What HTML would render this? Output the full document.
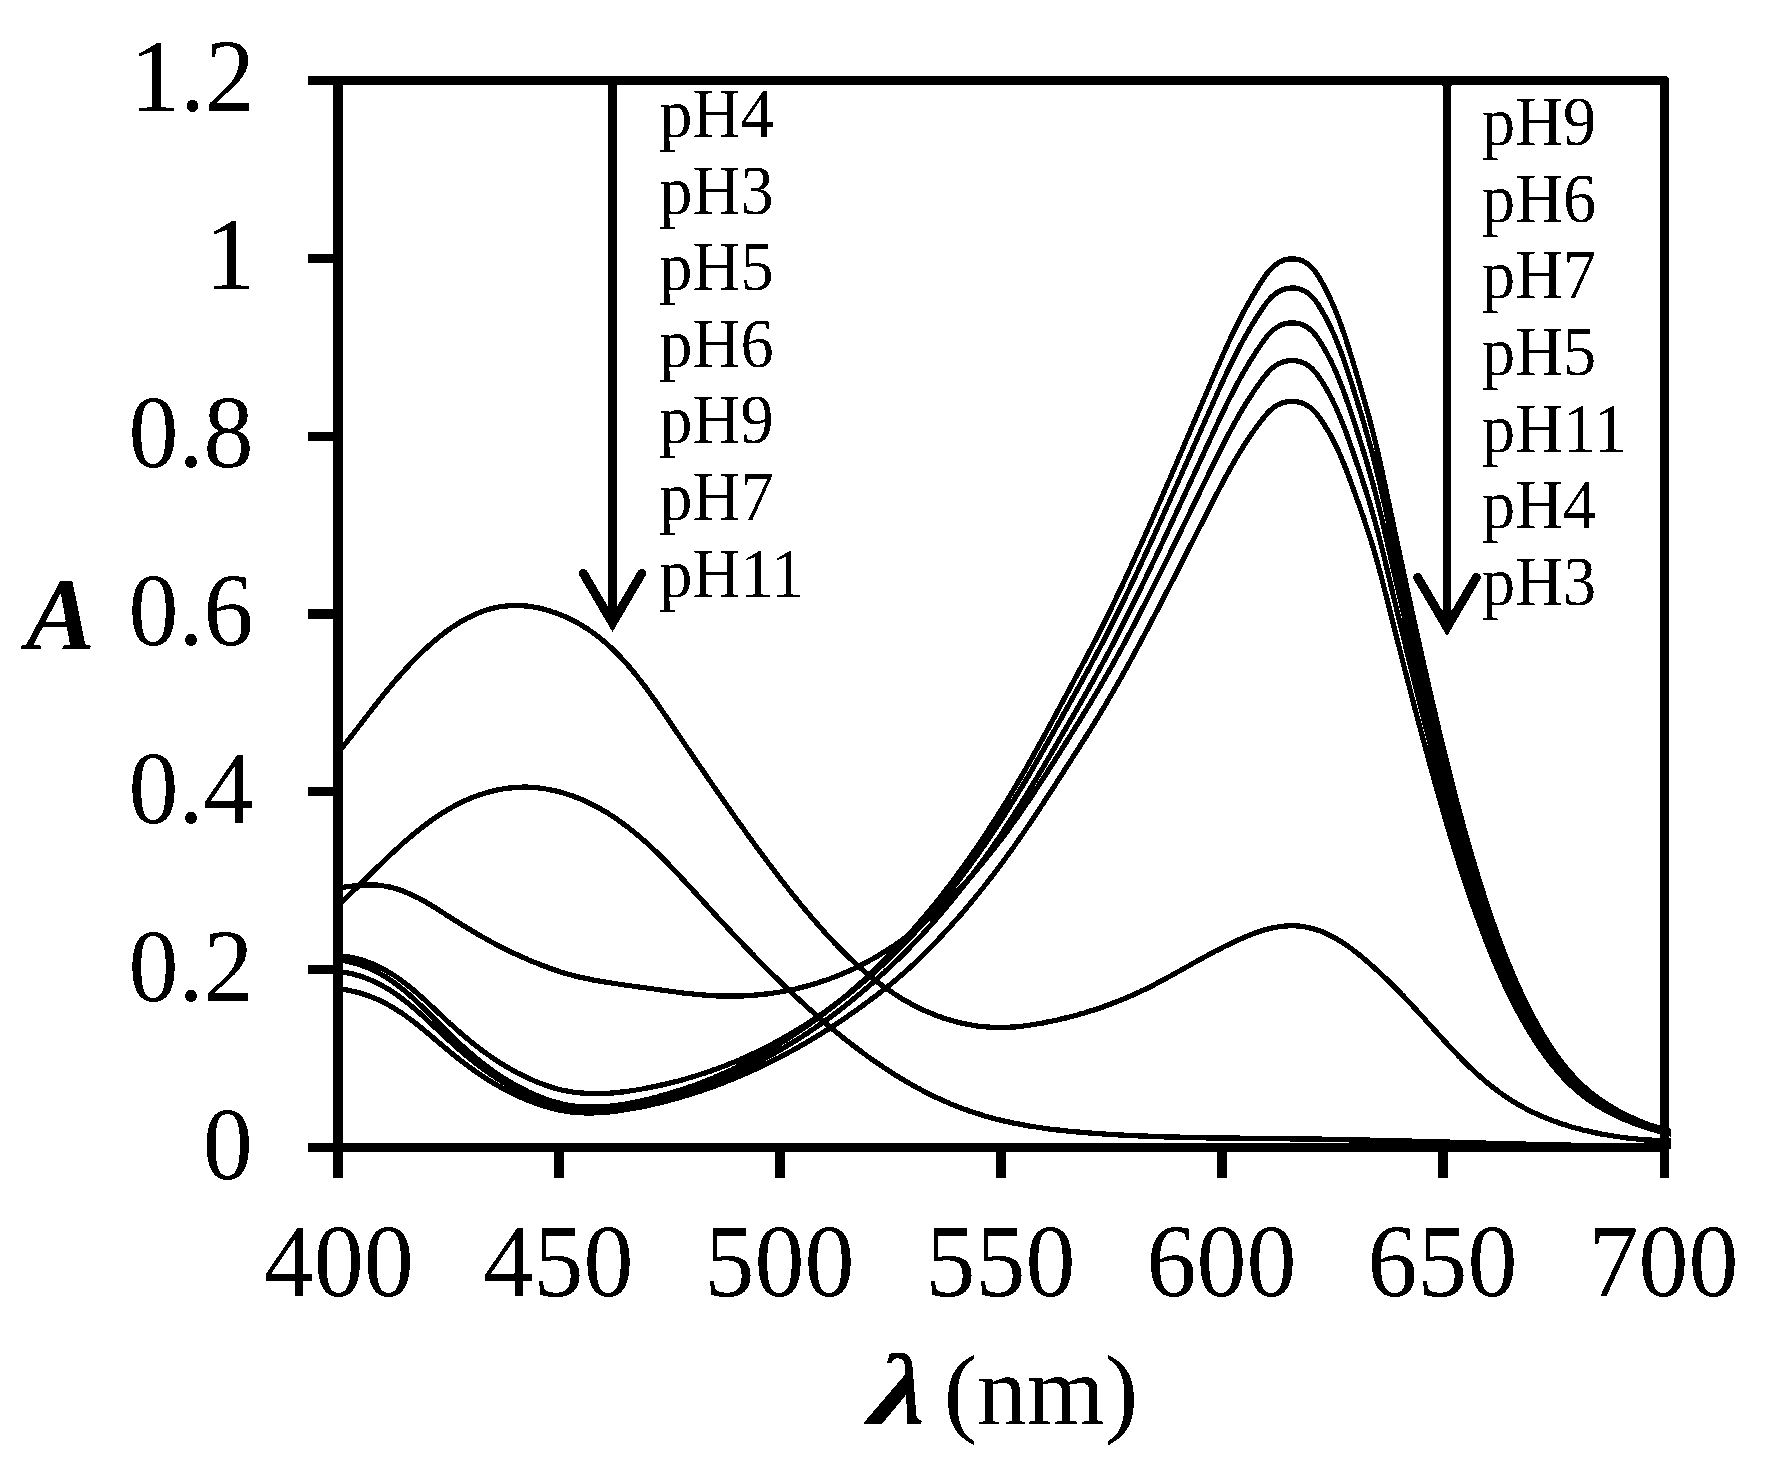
<!DOCTYPE html>
<html lang="en"><head><meta charset="utf-8"><title>Absorption spectra</title>
<style>html,body{margin:0;padding:0;background:#fff}body{width:1773px;height:1469px;overflow:hidden;position:relative}</style>
</head><body>
<svg width="1773" height="1469" viewBox="0 0 1773 1469" style="position:absolute;left:0;top:0">
<rect width="1773" height="1469" fill="#fff"/>
<defs><clipPath id="cp"><rect x="338" y="60" width="1333" height="1100"/></clipPath><filter id="bw" filterUnits="userSpaceOnUse" x="0" y="0" width="1773" height="1469" color-interpolation-filters="sRGB"><feComponentTransfer><feFuncA type="discrete" tableValues="0 1"/></feComponentTransfer></filter></defs>
<g filter="url(#bw)">
<g fill="none" stroke="#000" stroke-width="5.2" stroke-linejoin="round" clip-path="url(#cp)">
<path d="M338,959.7 L340,959.9 L342,960.3 L344,960.6 L346,961.0 L348,961.4 L350,961.9 L352,962.4 L354,962.9 L356,963.5 L358,964.1 L360,964.8 L362,965.5 L364,966.2 L366,967.0 L368,967.8 L370,968.7 L372,969.6 L374,970.5 L376,971.5 L378,972.6 L380,973.7 L382,974.8 L384,976.0 L386,977.3 L388,978.5 L390,979.9 L392,981.2 L394,982.6 L396,984.1 L398,985.6 L400,987.1 L402,988.7 L404,990.3 L406,992.0 L408,993.7 L410,995.5 L412,997.2 L414,999.0 L416,1000.9 L418,1002.8 L420,1004.7 L422,1006.6 L424,1008.5 L426,1010.5 L428,1012.5 L430,1014.4 L432,1016.4 L434,1018.4 L436,1020.5 L438,1022.5 L440,1024.5 L442,1026.5 L444,1028.5 L446,1030.5 L448,1032.4 L450,1034.4 L452,1036.3 L454,1038.3 L456,1040.1 L458,1042.0 L460,1043.9 L462,1045.7 L464,1047.5 L466,1049.3 L468,1051.1 L470,1052.8 L472,1054.5 L474,1056.2 L476,1057.9 L478,1059.5 L480,1061.1 L482,1062.7 L484,1064.3 L486,1065.8 L488,1067.3 L490,1068.8 L492,1070.2 L494,1071.7 L496,1073.1 L498,1074.4 L500,1075.8 L502,1077.1 L504,1078.4 L506,1079.6 L508,1080.9 L510,1082.1 L512,1083.3 L514,1084.4 L516,1085.5 L518,1086.6 L520,1087.7 L522,1088.7 L524,1089.7 L526,1090.7 L528,1091.7 L530,1092.6 L532,1093.5 L534,1094.4 L536,1095.2 L538,1096.1 L540,1096.9 L542,1097.6 L544,1098.4 L546,1099.1 L548,1099.8 L550,1100.4 L552,1101.1 L554,1101.7 L556,1102.3 L558,1102.8 L560,1103.3 L562,1103.8 L564,1104.2 L566,1104.6 L568,1105.0 L570,1105.3 L572,1105.6 L574,1105.9 L576,1106.2 L578,1106.4 L580,1106.5 L582,1106.7 L584,1106.8 L586,1106.9 L588,1107.0 L590,1107.0 L592,1107.0 L594,1107.0 L596,1107.0 L598,1106.9 L600,1106.8 L602,1106.7 L604,1106.6 L606,1106.5 L608,1106.3 L610,1106.1 L612,1105.9 L614,1105.7 L616,1105.4 L618,1105.1 L620,1104.8 L622,1104.5 L624,1104.2 L626,1103.9 L628,1103.5 L630,1103.2 L632,1102.8 L634,1102.4 L636,1102.0 L638,1101.6 L640,1101.1 L642,1100.7 L644,1100.2 L646,1099.7 L648,1099.2 L650,1098.8 L652,1098.3 L654,1097.7 L656,1097.2 L658,1096.7 L660,1096.1 L662,1095.6 L664,1095.0 L666,1094.5 L668,1093.9 L670,1093.3 L672,1092.7 L674,1092.1 L676,1091.5 L678,1090.8 L680,1090.2 L682,1089.5 L684,1088.9 L686,1088.2 L688,1087.5 L690,1086.8 L692,1086.1 L694,1085.4 L696,1084.7 L698,1083.9 L700,1083.2 L702,1082.4 L704,1081.6 L706,1080.8 L708,1080.0 L710,1079.2 L712,1078.4 L714,1077.6 L716,1076.7 L718,1075.9 L720,1075.0 L722,1074.1 L724,1073.2 L726,1072.3 L728,1071.4 L730,1070.5 L732,1069.6 L734,1068.6 L736,1067.7 L738,1066.7 L740,1065.7 L742,1064.7 L744,1063.7 L746,1062.7 L748,1061.7 L750,1060.6 L752,1059.6 L754,1058.5 L756,1057.4 L758,1056.3 L760,1055.2 L762,1054.1 L764,1053.0 L766,1051.9 L768,1050.7 L770,1049.5 L772,1048.4 L774,1047.2 L776,1046.0 L778,1044.8 L780,1043.6 L782,1042.3 L784,1041.1 L786,1039.8 L788,1038.5 L790,1037.2 L792,1035.9 L794,1034.6 L796,1033.3 L798,1032.0 L800,1030.6 L802,1029.2 L804,1027.9 L806,1026.5 L808,1025.1 L810,1023.6 L812,1022.2 L814,1020.8 L816,1019.3 L818,1017.8 L820,1016.3 L822,1014.8 L824,1013.3 L826,1011.8 L828,1010.2 L830,1008.7 L832,1007.1 L834,1005.5 L836,1003.9 L838,1002.3 L840,1000.7 L842,999.0 L844,997.4 L846,995.7 L848,994.0 L850,992.3 L852,990.5 L854,988.8 L856,987.1 L858,985.3 L860,983.5 L862,981.7 L864,979.9 L866,978.0 L868,976.2 L870,974.3 L872,972.4 L874,970.5 L876,968.6 L878,966.7 L880,964.7 L882,962.7 L884,960.7 L886,958.7 L888,956.7 L890,954.7 L892,952.6 L894,950.5 L896,948.4 L898,946.3 L900,944.2 L902,942.0 L904,939.9 L906,937.7 L908,935.5 L910,933.2 L912,931.0 L914,928.7 L916,926.4 L918,924.1 L920,921.8 L922,919.5 L924,917.1 L926,914.7 L928,912.3 L930,909.9 L932,907.5 L934,905.0 L936,902.5 L938,900.0 L940,897.5 L942,895.0 L944,892.4 L946,889.8 L948,887.2 L950,884.6 L952,881.9 L954,879.3 L956,876.6 L958,873.9 L960,871.1 L962,868.4 L964,865.6 L966,862.8 L968,860.0 L970,857.1 L972,854.3 L974,851.4 L976,848.5 L978,845.5 L980,842.6 L982,839.6 L984,836.6 L986,833.6 L988,830.5 L990,827.5 L992,824.4 L994,821.3 L996,818.1 L998,815.0 L1000,811.8 L1002,808.6 L1004,805.3 L1006,802.1 L1008,798.8 L1010,795.5 L1012,792.2 L1014,788.8 L1016,785.5 L1018,782.1 L1020,778.6 L1022,775.2 L1024,771.7 L1026,768.3 L1028,764.7 L1030,761.2 L1032,757.7 L1034,754.1 L1036,750.5 L1038,746.9 L1040,743.3 L1042,739.7 L1044,736.0 L1046,732.4 L1048,728.7 L1050,725.0 L1052,721.4 L1054,717.7 L1056,714.0 L1058,710.3 L1060,706.6 L1062,702.8 L1064,699.1 L1066,695.4 L1068,691.7 L1070,688.0 L1072,684.3 L1074,680.5 L1076,676.8 L1078,673.0 L1080,669.3 L1082,665.5 L1084,661.7 L1086,658.0 L1088,654.1 L1090,650.3 L1092,646.5 L1094,642.6 L1096,638.7 L1098,634.8 L1100,630.9 L1102,627.0 L1104,623.0 L1106,619.0 L1108,614.9 L1110,610.8 L1112,606.7 L1114,602.6 L1116,598.4 L1118,594.2 L1120,590.0 L1122,585.8 L1124,581.5 L1126,577.2 L1128,572.9 L1130,568.5 L1132,564.2 L1134,559.8 L1136,555.4 L1138,551.0 L1140,546.5 L1142,542.1 L1144,537.6 L1146,533.1 L1148,528.6 L1150,524.1 L1152,519.5 L1154,515.0 L1156,510.4 L1158,505.8 L1160,501.3 L1162,496.7 L1164,492.0 L1166,487.4 L1168,482.8 L1170,478.2 L1172,473.5 L1174,468.9 L1176,464.2 L1178,459.5 L1180,454.9 L1182,450.2 L1184,445.5 L1186,440.8 L1188,436.1 L1190,431.4 L1192,426.8 L1194,422.1 L1196,417.4 L1198,412.7 L1200,408.0 L1202,403.3 L1204,398.7 L1206,394.0 L1208,389.3 L1210,384.7 L1212,380.0 L1214,375.4 L1216,370.7 L1218,366.1 L1220,361.6 L1222,357.0 L1224,352.5 L1226,348.1 L1228,343.7 L1230,339.4 L1232,335.2 L1234,331.0 L1236,326.9 L1238,322.9 L1240,318.9 L1242,315.1 L1244,311.3 L1246,307.6 L1248,304.0 L1250,300.4 L1252,296.9 L1254,293.6 L1256,290.2 L1258,287.0 L1260,283.8 L1262,280.7 L1264,277.7 L1266,274.8 L1268,272.2 L1270,269.8 L1272,267.7 L1274,265.8 L1276,264.3 L1278,262.9 L1280,261.8 L1282,260.9 L1284,260.1 L1286,259.5 L1288,259.1 L1290,258.8 L1292,258.7 L1294,258.8 L1296,259.0 L1298,259.4 L1300,260.0 L1302,260.7 L1304,261.7 L1306,262.8 L1308,264.2 L1310,265.8 L1312,267.8 L1314,270.1 L1316,272.7 L1318,275.7 L1320,279.0 L1322,282.5 L1324,286.1 L1326,289.9 L1328,293.9 L1330,298.1 L1332,302.5 L1334,307.1 L1336,311.9 L1338,317.0 L1340,322.3 L1342,327.9 L1344,333.7 L1346,339.7 L1348,345.9 L1350,352.3 L1352,358.8 L1354,365.4 L1356,372.0 L1358,378.6 L1360,385.4 L1362,392.2 L1364,399.2 L1366,406.3 L1368,413.5 L1370,421.0 L1372,428.6 L1374,436.5 L1376,444.7 L1378,453.2 L1380,462.0 L1382,471.0 L1384,480.3 L1386,489.7 L1388,499.2 L1390,508.7 L1392,518.1 L1394,527.6 L1396,537.0 L1398,546.4 L1400,555.8 L1402,565.1 L1404,574.4 L1406,583.7 L1408,592.9 L1410,602.1 L1412,611.3 L1414,620.4 L1416,629.5 L1418,638.5 L1420,647.5 L1422,656.4 L1424,665.3 L1426,674.1 L1428,682.9 L1430,691.6 L1432,700.3 L1434,708.9 L1436,717.5 L1438,726.0 L1440,734.4 L1442,742.7 L1444,750.9 L1446,759.1 L1448,767.2 L1450,775.2 L1452,783.0 L1454,790.8 L1456,798.5 L1458,806.1 L1460,813.5 L1462,820.9 L1464,828.2 L1466,835.3 L1468,842.4 L1470,849.3 L1472,856.2 L1474,863.0 L1476,869.6 L1478,876.2 L1480,882.6 L1482,889.0 L1484,895.2 L1486,901.4 L1488,907.5 L1490,913.4 L1492,919.3 L1494,925.1 L1496,930.7 L1498,936.3 L1500,941.7 L1502,947.0 L1504,952.3 L1506,957.4 L1508,962.4 L1510,967.3 L1512,972.0 L1514,976.7 L1516,981.3 L1518,985.8 L1520,990.2 L1522,994.5 L1524,998.7 L1526,1002.8 L1528,1006.8 L1530,1010.7 L1532,1014.6 L1534,1018.4 L1536,1022.1 L1538,1025.7 L1540,1029.2 L1542,1032.7 L1544,1036.1 L1546,1039.4 L1548,1042.6 L1550,1045.7 L1552,1048.7 L1554,1051.7 L1556,1054.5 L1558,1057.3 L1560,1060.0 L1562,1062.7 L1564,1065.2 L1566,1067.7 L1568,1070.1 L1570,1072.4 L1572,1074.6 L1574,1076.8 L1576,1078.9 L1578,1081.0 L1580,1082.9 L1582,1084.8 L1584,1086.7 L1586,1088.5 L1588,1090.2 L1590,1091.9 L1592,1093.5 L1594,1095.0 L1596,1096.6 L1598,1098.0 L1600,1099.5 L1602,1100.9 L1604,1102.2 L1606,1103.5 L1608,1104.8 L1610,1106.0 L1612,1107.3 L1614,1108.4 L1616,1109.6 L1618,1110.7 L1620,1111.8 L1622,1112.8 L1624,1113.9 L1626,1114.9 L1628,1115.9 L1630,1116.8 L1632,1117.7 L1634,1118.6 L1636,1119.5 L1638,1120.4 L1640,1121.2 L1642,1122.0 L1644,1122.8 L1646,1123.6 L1648,1124.3 L1650,1125.1 L1652,1125.8 L1654,1126.5 L1656,1127.1 L1658,1127.8 L1660,1128.4 L1662,1129.0 L1664,1129.6 L1666,1130.2 L1668,1130.7 L1670,1131.2 L1672,1131.5"/>
<path d="M338,955.5 L340,955.7 L342,955.9 L344,956.2 L346,956.5 L348,956.8 L350,957.2 L352,957.6 L354,958.0 L356,958.5 L358,959.0 L360,959.5 L362,960.1 L364,960.7 L366,961.4 L368,962.1 L370,962.9 L372,963.7 L374,964.5 L376,965.4 L378,966.3 L380,967.3 L382,968.3 L384,969.4 L386,970.5 L388,971.7 L390,972.9 L392,974.1 L394,975.4 L396,976.7 L398,978.1 L400,979.5 L402,981.0 L404,982.5 L406,984.0 L408,985.6 L410,987.2 L412,988.8 L414,990.5 L416,992.2 L418,993.9 L420,995.7 L422,997.5 L424,999.3 L426,1001.1 L428,1003.0 L430,1004.8 L432,1006.7 L434,1008.6 L436,1010.5 L438,1012.4 L440,1014.3 L442,1016.1 L444,1018.0 L446,1019.9 L448,1021.7 L450,1023.6 L452,1025.4 L454,1027.2 L456,1029.0 L458,1030.8 L460,1032.5 L462,1034.2 L464,1036.0 L466,1037.6 L468,1039.3 L470,1040.9 L472,1042.6 L474,1044.2 L476,1045.7 L478,1047.3 L480,1048.8 L482,1050.3 L484,1051.8 L486,1053.3 L488,1054.7 L490,1056.1 L492,1057.5 L494,1058.8 L496,1060.2 L498,1061.5 L500,1062.8 L502,1064.0 L504,1065.3 L506,1066.5 L508,1067.6 L510,1068.8 L512,1069.9 L514,1071.0 L516,1072.1 L518,1073.2 L520,1074.2 L522,1075.2 L524,1076.2 L526,1077.1 L528,1078.1 L530,1079.0 L532,1079.8 L534,1080.7 L536,1081.5 L538,1082.3 L540,1083.1 L542,1083.9 L544,1084.6 L546,1085.3 L548,1086.0 L550,1086.6 L552,1087.3 L554,1087.9 L556,1088.4 L558,1089.0 L560,1089.5 L562,1090.0 L564,1090.4 L566,1090.8 L568,1091.2 L570,1091.6 L572,1091.9 L574,1092.2 L576,1092.5 L578,1092.7 L580,1092.9 L582,1093.1 L584,1093.2 L586,1093.4 L588,1093.5 L590,1093.6 L592,1093.6 L594,1093.7 L596,1093.7 L598,1093.7 L600,1093.6 L602,1093.6 L604,1093.5 L606,1093.4 L608,1093.3 L610,1093.2 L612,1093.0 L614,1092.8 L616,1092.7 L618,1092.5 L620,1092.2 L622,1092.0 L624,1091.8 L626,1091.5 L628,1091.2 L630,1090.9 L632,1090.6 L634,1090.3 L636,1090.0 L638,1089.7 L640,1089.3 L642,1089.0 L644,1088.6 L646,1088.2 L648,1087.8 L650,1087.4 L652,1087.0 L654,1086.6 L656,1086.2 L658,1085.7 L660,1085.3 L662,1084.9 L664,1084.4 L666,1083.9 L668,1083.5 L670,1083.0 L672,1082.5 L674,1082.0 L676,1081.5 L678,1081.0 L680,1080.4 L682,1079.9 L684,1079.3 L686,1078.8 L688,1078.2 L690,1077.6 L692,1077.0 L694,1076.4 L696,1075.8 L698,1075.2 L700,1074.6 L702,1073.9 L704,1073.3 L706,1072.6 L708,1071.9 L710,1071.2 L712,1070.5 L714,1069.8 L716,1069.1 L718,1068.4 L720,1067.6 L722,1066.9 L724,1066.1 L726,1065.3 L728,1064.5 L730,1063.7 L732,1062.9 L734,1062.1 L736,1061.3 L738,1060.4 L740,1059.6 L742,1058.7 L744,1057.8 L746,1056.9 L748,1056.0 L750,1055.1 L752,1054.2 L754,1053.2 L756,1052.3 L758,1051.3 L760,1050.3 L762,1049.3 L764,1048.3 L766,1047.3 L768,1046.3 L770,1045.3 L772,1044.2 L774,1043.1 L776,1042.1 L778,1041.0 L780,1039.9 L782,1038.8 L784,1037.6 L786,1036.5 L788,1035.4 L790,1034.2 L792,1033.0 L794,1031.8 L796,1030.6 L798,1029.4 L800,1028.2 L802,1026.9 L804,1025.7 L806,1024.4 L808,1023.1 L810,1021.8 L812,1020.5 L814,1019.2 L816,1017.9 L818,1016.5 L820,1015.2 L822,1013.8 L824,1012.4 L826,1011.0 L828,1009.6 L830,1008.1 L832,1006.7 L834,1005.2 L836,1003.7 L838,1002.2 L840,1000.7 L842,999.2 L844,997.7 L846,996.1 L848,994.5 L850,993.0 L852,991.4 L854,989.7 L856,988.1 L858,986.5 L860,984.8 L862,983.1 L864,981.4 L866,979.7 L868,978.0 L870,976.2 L872,974.5 L874,972.7 L876,970.9 L878,969.1 L880,967.2 L882,965.4 L884,963.5 L886,961.6 L888,959.7 L890,957.8 L892,955.9 L894,953.9 L896,952.0 L898,950.0 L900,948.0 L902,945.9 L904,943.9 L906,941.8 L908,939.7 L910,937.6 L912,935.5 L914,933.4 L916,931.2 L918,929.0 L920,926.8 L922,924.6 L924,922.4 L926,920.1 L928,917.8 L930,915.5 L932,913.2 L934,910.9 L936,908.5 L938,906.2 L940,903.8 L942,901.3 L944,898.9 L946,896.4 L948,894.0 L950,891.5 L952,888.9 L954,886.4 L956,883.8 L958,881.2 L960,878.6 L962,876.0 L964,873.3 L966,870.7 L968,868.0 L970,865.2 L972,862.5 L974,859.7 L976,857.0 L978,854.2 L980,851.3 L982,848.5 L984,845.6 L986,842.7 L988,839.8 L990,836.8 L992,833.9 L994,830.9 L996,827.9 L998,824.8 L1000,821.8 L1002,818.7 L1004,815.6 L1006,812.5 L1008,809.3 L1010,806.1 L1012,802.9 L1014,799.7 L1016,796.5 L1018,793.2 L1020,789.9 L1022,786.6 L1024,783.3 L1026,779.9 L1028,776.6 L1030,773.2 L1032,769.7 L1034,766.3 L1036,762.9 L1038,759.4 L1040,755.9 L1042,752.4 L1044,748.9 L1046,745.4 L1048,741.9 L1050,738.3 L1052,734.8 L1054,731.2 L1056,727.6 L1058,724.1 L1060,720.5 L1062,716.9 L1064,713.3 L1066,709.8 L1068,706.2 L1070,702.6 L1072,699.0 L1074,695.4 L1076,691.8 L1078,688.2 L1080,684.6 L1082,680.9 L1084,677.3 L1086,673.6 L1088,669.9 L1090,666.3 L1092,662.5 L1094,658.8 L1096,655.1 L1098,651.3 L1100,647.5 L1102,643.7 L1104,639.9 L1106,636.0 L1108,632.1 L1110,628.1 L1112,624.2 L1114,620.2 L1116,616.2 L1118,612.1 L1120,608.0 L1122,603.9 L1124,599.8 L1126,595.7 L1128,591.5 L1130,587.3 L1132,583.1 L1134,578.8 L1136,574.6 L1138,570.3 L1140,566.0 L1142,561.7 L1144,557.4 L1146,553.1 L1148,548.7 L1150,544.3 L1152,540.0 L1154,535.6 L1156,531.2 L1158,526.7 L1160,522.3 L1162,517.9 L1164,513.4 L1166,509.0 L1168,504.5 L1170,500.0 L1172,495.5 L1174,491.0 L1176,486.5 L1178,482.0 L1180,477.5 L1182,473.0 L1184,468.4 L1186,463.9 L1188,459.4 L1190,454.9 L1192,450.3 L1194,445.8 L1196,441.3 L1198,436.7 L1200,432.2 L1202,427.7 L1204,423.2 L1206,418.7 L1208,414.2 L1210,409.7 L1212,405.2 L1214,400.7 L1216,396.2 L1218,391.7 L1220,387.3 L1222,382.9 L1224,378.6 L1226,374.3 L1228,370.1 L1230,365.9 L1232,361.8 L1234,357.8 L1236,353.8 L1238,350.0 L1240,346.1 L1242,342.4 L1244,338.7 L1246,335.2 L1248,331.7 L1250,328.2 L1252,324.9 L1254,321.6 L1256,318.4 L1258,315.3 L1260,312.2 L1262,309.2 L1264,306.3 L1266,303.5 L1268,300.9 L1270,298.6 L1272,296.6 L1274,294.8 L1276,293.3 L1278,292.0 L1280,290.9 L1282,290.0 L1284,289.3 L1286,288.7 L1288,288.3 L1290,288.1 L1292,288.0 L1294,288.0 L1296,288.2 L1298,288.6 L1300,289.2 L1302,289.9 L1304,290.8 L1306,291.9 L1308,293.2 L1310,294.8 L1312,296.7 L1314,298.9 L1316,301.5 L1318,304.4 L1320,307.6 L1322,310.9 L1324,314.4 L1326,318.1 L1328,322.0 L1330,326.0 L1332,330.3 L1334,334.7 L1336,339.4 L1338,344.3 L1340,349.4 L1342,354.8 L1344,360.4 L1346,366.3 L1348,372.3 L1350,378.5 L1352,384.7 L1354,391.1 L1356,397.5 L1358,403.9 L1360,410.5 L1362,417.1 L1364,423.8 L1366,430.7 L1368,437.7 L1370,444.8 L1372,452.2 L1374,459.9 L1376,467.8 L1378,476.0 L1380,484.5 L1382,493.3 L1384,502.2 L1386,511.3 L1388,520.5 L1390,529.6 L1392,538.8 L1394,547.9 L1396,557.0 L1398,566.1 L1400,575.2 L1402,584.2 L1404,593.2 L1406,602.2 L1408,611.1 L1410,620.0 L1412,628.9 L1414,637.7 L1416,646.5 L1418,655.2 L1420,663.9 L1422,672.5 L1424,681.1 L1426,689.6 L1428,698.1 L1430,706.6 L1432,715.0 L1434,723.3 L1436,731.6 L1438,739.8 L1440,747.9 L1442,755.9 L1444,763.9 L1446,771.8 L1448,779.6 L1450,787.3 L1452,794.9 L1454,802.5 L1456,809.9 L1458,817.2 L1460,824.4 L1462,831.6 L1464,838.6 L1466,845.5 L1468,852.3 L1470,859.1 L1472,865.7 L1474,872.2 L1476,878.7 L1478,885.0 L1480,891.2 L1482,897.4 L1484,903.4 L1486,909.4 L1488,915.3 L1490,921.1 L1492,926.7 L1494,932.3 L1496,937.8 L1498,943.1 L1500,948.4 L1502,953.6 L1504,958.6 L1506,963.5 L1508,968.4 L1510,973.1 L1512,977.7 L1514,982.3 L1516,986.7 L1518,991.0 L1520,995.3 L1522,999.4 L1524,1003.5 L1526,1007.5 L1528,1011.3 L1530,1015.2 L1532,1018.9 L1534,1022.5 L1536,1026.1 L1538,1029.6 L1540,1033.0 L1542,1036.4 L1544,1039.7 L1546,1042.8 L1548,1045.9 L1550,1049.0 L1552,1051.9 L1554,1054.8 L1556,1057.5 L1558,1060.2 L1560,1062.8 L1562,1065.4 L1564,1067.8 L1566,1070.2 L1568,1072.5 L1570,1074.8 L1572,1077.0 L1574,1079.1 L1576,1081.1 L1578,1083.1 L1580,1085.0 L1582,1086.8 L1584,1088.6 L1586,1090.3 L1588,1092.0 L1590,1093.6 L1592,1095.2 L1594,1096.7 L1596,1098.2 L1598,1099.6 L1600,1101.0 L1602,1102.3 L1604,1103.6 L1606,1104.9 L1608,1106.2 L1610,1107.4 L1612,1108.5 L1614,1109.7 L1616,1110.8 L1618,1111.9 L1620,1112.9 L1622,1113.9 L1624,1114.9 L1626,1115.9 L1628,1116.9 L1630,1117.8 L1632,1118.7 L1634,1119.5 L1636,1120.4 L1638,1121.2 L1640,1122.0 L1642,1122.8 L1644,1123.6 L1646,1124.3 L1648,1125.1 L1650,1125.8 L1652,1126.4 L1654,1127.1 L1656,1127.8 L1658,1128.4 L1660,1129.0 L1662,1129.6 L1664,1130.2 L1666,1130.7 L1668,1131.2 L1670,1131.7 L1672,1131.9"/>
<path d="M338,971.3 L340,971.6 L342,971.9 L344,972.2 L346,972.6 L348,972.9 L350,973.4 L352,973.8 L354,974.3 L356,974.9 L358,975.5 L360,976.1 L362,976.7 L364,977.4 L366,978.2 L368,978.9 L370,979.8 L372,980.6 L374,981.5 L376,982.5 L378,983.4 L380,984.5 L382,985.5 L384,986.7 L386,987.8 L388,989.0 L390,990.2 L392,991.5 L394,992.9 L396,994.2 L398,995.6 L400,997.1 L402,998.6 L404,1000.1 L406,1001.7 L408,1003.3 L410,1004.9 L412,1006.6 L414,1008.2 L416,1010.0 L418,1011.7 L420,1013.5 L422,1015.3 L424,1017.1 L426,1019.0 L428,1020.8 L430,1022.7 L432,1024.6 L434,1026.5 L436,1028.3 L438,1030.2 L440,1032.1 L442,1034.0 L444,1035.9 L446,1037.7 L448,1039.6 L450,1041.4 L452,1043.2 L454,1045.0 L456,1046.8 L458,1048.6 L460,1050.3 L462,1052.0 L464,1053.7 L466,1055.4 L468,1057.0 L470,1058.7 L472,1060.3 L474,1061.9 L476,1063.4 L478,1065.0 L480,1066.5 L482,1068.0 L484,1069.4 L486,1070.9 L488,1072.3 L490,1073.7 L492,1075.0 L494,1076.4 L496,1077.7 L498,1079.0 L500,1080.2 L502,1081.5 L504,1082.7 L506,1083.8 L508,1085.0 L510,1086.1 L512,1087.2 L514,1088.3 L516,1089.4 L518,1090.4 L520,1091.4 L522,1092.4 L524,1093.3 L526,1094.3 L528,1095.2 L530,1096.0 L532,1096.9 L534,1097.7 L536,1098.5 L538,1099.3 L540,1100.0 L542,1100.7 L544,1101.4 L546,1102.1 L548,1102.7 L550,1103.4 L552,1104.0 L554,1104.5 L556,1105.1 L558,1105.6 L560,1106.1 L562,1106.5 L564,1106.9 L566,1107.3 L568,1107.6 L570,1108.0 L572,1108.2 L574,1108.5 L576,1108.7 L578,1108.9 L580,1109.1 L582,1109.2 L584,1109.3 L586,1109.4 L588,1109.5 L590,1109.5 L592,1109.5 L594,1109.5 L596,1109.5 L598,1109.4 L600,1109.4 L602,1109.3 L604,1109.1 L606,1109.0 L608,1108.8 L610,1108.7 L612,1108.5 L614,1108.2 L616,1108.0 L618,1107.8 L620,1107.5 L622,1107.2 L624,1106.9 L626,1106.6 L628,1106.3 L630,1105.9 L632,1105.6 L634,1105.2 L636,1104.8 L638,1104.4 L640,1104.0 L642,1103.6 L644,1103.1 L646,1102.7 L648,1102.2 L650,1101.8 L652,1101.3 L654,1100.8 L656,1100.3 L658,1099.8 L660,1099.3 L662,1098.8 L664,1098.3 L666,1097.8 L668,1097.2 L670,1096.7 L672,1096.1 L674,1095.5 L676,1094.9 L678,1094.3 L680,1093.7 L682,1093.1 L684,1092.5 L686,1091.9 L688,1091.2 L690,1090.6 L692,1089.9 L694,1089.2 L696,1088.5 L698,1087.9 L700,1087.1 L702,1086.4 L704,1085.7 L706,1085.0 L708,1084.2 L710,1083.5 L712,1082.7 L714,1081.9 L716,1081.1 L718,1080.3 L720,1079.5 L722,1078.7 L724,1077.8 L726,1077.0 L728,1076.1 L730,1075.3 L732,1074.4 L734,1073.5 L736,1072.6 L738,1071.7 L740,1070.8 L742,1069.8 L744,1068.9 L746,1068.0 L748,1067.0 L750,1066.0 L752,1065.0 L754,1064.0 L756,1063.0 L758,1062.0 L760,1061.0 L762,1059.9 L764,1058.9 L766,1057.8 L768,1056.7 L770,1055.6 L772,1054.5 L774,1053.4 L776,1052.3 L778,1051.1 L780,1050.0 L782,1048.8 L784,1047.7 L786,1046.5 L788,1045.3 L790,1044.1 L792,1042.9 L794,1041.6 L796,1040.4 L798,1039.1 L800,1037.9 L802,1036.6 L804,1035.3 L806,1034.0 L808,1032.7 L810,1031.3 L812,1030.0 L814,1028.6 L816,1027.2 L818,1025.9 L820,1024.5 L822,1023.1 L824,1021.6 L826,1020.2 L828,1018.8 L830,1017.3 L832,1015.8 L834,1014.3 L836,1012.8 L838,1011.3 L840,1009.8 L842,1008.2 L844,1006.7 L846,1005.1 L848,1003.5 L850,1001.9 L852,1000.3 L854,998.6 L856,997.0 L858,995.3 L860,993.7 L862,992.0 L864,990.3 L866,988.6 L868,986.9 L870,985.1 L872,983.4 L874,981.6 L876,979.8 L878,978.0 L880,976.2 L882,974.4 L884,972.6 L886,970.7 L888,968.8 L890,967.0 L892,965.1 L894,963.1 L896,961.2 L898,959.3 L900,957.3 L902,955.3 L904,953.3 L906,951.3 L908,949.3 L910,947.3 L912,945.2 L914,943.1 L916,941.1 L918,939.0 L920,936.8 L922,934.7 L924,932.5 L926,930.4 L928,928.2 L930,926.0 L932,923.7 L934,921.5 L936,919.2 L938,916.9 L940,914.6 L942,912.3 L944,910.0 L946,907.6 L948,905.2 L950,902.8 L952,900.4 L954,898.0 L956,895.5 L958,893.0 L960,890.5 L962,888.0 L964,885.5 L966,882.9 L968,880.3 L970,877.7 L972,875.1 L974,872.5 L976,869.8 L978,867.1 L980,864.4 L982,861.7 L984,858.9 L986,856.1 L988,853.3 L990,850.5 L992,847.6 L994,844.7 L996,841.8 L998,838.9 L1000,835.9 L1002,833.0 L1004,830.0 L1006,826.9 L1008,823.9 L1010,820.8 L1012,817.8 L1014,814.7 L1016,811.5 L1018,808.4 L1020,805.2 L1022,802.0 L1024,798.8 L1026,795.6 L1028,792.3 L1030,789.0 L1032,785.7 L1034,782.4 L1036,779.1 L1038,775.8 L1040,772.4 L1042,769.1 L1044,765.7 L1046,762.3 L1048,758.9 L1050,755.5 L1052,752.0 L1054,748.6 L1056,745.2 L1058,741.7 L1060,738.3 L1062,734.9 L1064,731.4 L1066,728.0 L1068,724.5 L1070,721.1 L1072,717.6 L1074,714.1 L1076,710.7 L1078,707.2 L1080,703.7 L1082,700.2 L1084,696.7 L1086,693.2 L1088,689.7 L1090,686.1 L1092,682.6 L1094,679.0 L1096,675.4 L1098,671.7 L1100,668.1 L1102,664.4 L1104,660.7 L1106,657.0 L1108,653.3 L1110,649.5 L1112,645.7 L1114,641.8 L1116,638.0 L1118,634.1 L1120,630.2 L1122,626.2 L1124,622.2 L1126,618.3 L1128,614.2 L1130,610.2 L1132,606.2 L1134,602.1 L1136,598.0 L1138,593.9 L1140,589.8 L1142,585.6 L1144,581.5 L1146,577.3 L1148,573.1 L1150,569.0 L1152,564.7 L1154,560.5 L1156,556.3 L1158,552.0 L1160,547.8 L1162,543.5 L1164,539.2 L1166,535.0 L1168,530.7 L1170,526.4 L1172,522.0 L1174,517.7 L1176,513.4 L1178,509.1 L1180,504.7 L1182,500.4 L1184,496.0 L1186,491.7 L1188,487.4 L1190,483.0 L1192,478.7 L1194,474.3 L1196,470.0 L1198,465.6 L1200,461.3 L1202,456.9 L1204,452.6 L1206,448.2 L1208,443.9 L1210,439.6 L1212,435.3 L1214,431.0 L1216,426.7 L1218,422.4 L1220,418.1 L1222,413.9 L1224,409.8 L1226,405.7 L1228,401.6 L1230,397.6 L1232,393.7 L1234,389.8 L1236,386.0 L1238,382.3 L1240,378.6 L1242,375.0 L1244,371.5 L1246,368.1 L1248,364.7 L1250,361.4 L1252,358.2 L1254,355.0 L1256,352.0 L1258,348.9 L1260,346.0 L1262,343.1 L1264,340.3 L1266,337.7 L1268,335.2 L1270,333.0 L1272,331.0 L1274,329.3 L1276,327.9 L1278,326.6 L1280,325.6 L1282,324.7 L1284,324.0 L1286,323.5 L1288,323.1 L1290,322.8 L1292,322.7 L1294,322.8 L1296,323.0 L1298,323.4 L1300,323.9 L1302,324.6 L1304,325.5 L1306,326.5 L1308,327.8 L1310,329.3 L1312,331.1 L1314,333.3 L1316,335.7 L1318,338.5 L1320,341.5 L1322,344.8 L1324,348.1 L1326,351.7 L1328,355.4 L1330,359.2 L1332,363.3 L1334,367.6 L1336,372.1 L1338,376.8 L1340,381.7 L1342,386.9 L1344,392.3 L1346,397.9 L1348,403.6 L1350,409.6 L1352,415.6 L1354,421.7 L1356,427.8 L1358,434.0 L1360,440.3 L1362,446.6 L1364,453.1 L1366,459.7 L1368,466.4 L1370,473.3 L1372,480.4 L1374,487.7 L1376,495.3 L1378,503.2 L1380,511.3 L1382,519.7 L1384,528.3 L1386,537.1 L1388,545.9 L1390,554.7 L1392,563.4 L1394,572.2 L1396,581.0 L1398,589.7 L1400,598.4 L1402,607.0 L1404,615.7 L1406,624.3 L1408,632.9 L1410,641.4 L1412,649.9 L1414,658.4 L1416,666.8 L1418,675.2 L1420,683.5 L1422,691.8 L1424,700.0 L1426,708.2 L1428,716.4 L1430,724.5 L1432,732.5 L1434,740.5 L1436,748.4 L1438,756.3 L1440,764.1 L1442,771.8 L1444,779.5 L1446,787.1 L1448,794.6 L1450,802.0 L1452,809.3 L1454,816.5 L1456,823.6 L1458,830.6 L1460,837.6 L1462,844.4 L1464,851.2 L1466,857.8 L1468,864.4 L1470,870.8 L1472,877.2 L1474,883.4 L1476,889.6 L1478,895.7 L1480,901.7 L1482,907.6 L1484,913.4 L1486,919.1 L1488,924.7 L1490,930.3 L1492,935.7 L1494,941.1 L1496,946.3 L1498,951.5 L1500,956.5 L1502,961.5 L1504,966.3 L1506,971.1 L1508,975.7 L1510,980.2 L1512,984.7 L1514,989.0 L1516,993.3 L1518,997.4 L1520,1001.5 L1522,1005.5 L1524,1009.4 L1526,1013.2 L1528,1016.9 L1530,1020.6 L1532,1024.2 L1534,1027.7 L1536,1031.1 L1538,1034.5 L1540,1037.7 L1542,1041.0 L1544,1044.1 L1546,1047.1 L1548,1050.1 L1550,1053.0 L1552,1055.8 L1554,1058.6 L1556,1061.2 L1558,1063.8 L1560,1066.3 L1562,1068.8 L1564,1071.1 L1566,1073.4 L1568,1075.6 L1570,1077.8 L1572,1079.9 L1574,1081.9 L1576,1083.9 L1578,1085.7 L1580,1087.6 L1582,1089.3 L1584,1091.1 L1586,1092.7 L1588,1094.3 L1590,1095.9 L1592,1097.4 L1594,1098.8 L1596,1100.2 L1598,1101.6 L1600,1102.9 L1602,1104.2 L1604,1105.5 L1606,1106.7 L1608,1107.9 L1610,1109.0 L1612,1110.2 L1614,1111.2 L1616,1112.3 L1618,1113.3 L1620,1114.4 L1622,1115.3 L1624,1116.3 L1626,1117.2 L1628,1118.1 L1630,1119.0 L1632,1119.9 L1634,1120.7 L1636,1121.5 L1638,1122.3 L1640,1123.1 L1642,1123.9 L1644,1124.6 L1646,1125.3 L1648,1126.0 L1650,1126.7 L1652,1127.3 L1654,1128.0 L1656,1128.6 L1658,1129.2 L1660,1129.8 L1662,1130.3 L1664,1130.9 L1666,1131.4 L1668,1131.9 L1670,1132.4 L1672,1132.6"/>
<path d="M338,888.6 L340,888.2 L342,887.7 L344,887.3 L346,886.9 L348,886.6 L350,886.3 L352,886.0 L354,885.7 L356,885.5 L358,885.2 L360,885.1 L362,884.9 L364,884.8 L366,884.8 L368,884.7 L370,884.8 L372,884.8 L374,884.9 L376,885.0 L378,885.2 L380,885.4 L382,885.7 L384,886.0 L386,886.3 L388,886.7 L390,887.1 L392,887.6 L394,888.2 L396,888.7 L398,889.3 L400,890.0 L402,890.7 L404,891.5 L406,892.3 L408,893.1 L410,894.0 L412,894.9 L414,895.8 L416,896.8 L418,897.8 L420,898.9 L422,900.0 L424,901.1 L426,902.3 L428,903.4 L430,904.6 L432,905.8 L434,907.1 L436,908.3 L438,909.6 L440,910.8 L442,912.1 L444,913.4 L446,914.7 L448,915.9 L450,917.2 L452,918.5 L454,919.8 L456,921.0 L458,922.3 L460,923.5 L462,924.8 L464,926.0 L466,927.2 L468,928.4 L470,929.6 L472,930.8 L474,932.0 L476,933.2 L478,934.4 L480,935.5 L482,936.7 L484,937.8 L486,938.9 L488,940.0 L490,941.1 L492,942.2 L494,943.3 L496,944.3 L498,945.4 L500,946.4 L502,947.4 L504,948.5 L506,949.5 L508,950.4 L510,951.4 L512,952.4 L514,953.3 L516,954.2 L518,955.2 L520,956.1 L522,957.0 L524,957.9 L526,958.7 L528,959.6 L530,960.4 L532,961.3 L534,962.1 L536,962.9 L538,963.7 L540,964.5 L542,965.3 L544,966.0 L546,966.8 L548,967.5 L550,968.3 L552,969.0 L554,969.7 L556,970.4 L558,971.0 L560,971.7 L562,972.3 L564,972.9 L566,973.5 L568,974.1 L570,974.6 L572,975.2 L574,975.7 L576,976.2 L578,976.7 L580,977.1 L582,977.6 L584,978.0 L586,978.5 L588,978.9 L590,979.3 L592,979.7 L594,980.1 L596,980.4 L598,980.8 L600,981.2 L602,981.5 L604,981.8 L606,982.2 L608,982.5 L610,982.8 L612,983.1 L614,983.4 L616,983.7 L618,984.0 L620,984.3 L622,984.6 L624,984.9 L626,985.2 L628,985.5 L630,985.7 L632,986.0 L634,986.3 L636,986.6 L638,986.8 L640,987.1 L642,987.4 L644,987.6 L646,987.9 L648,988.2 L650,988.5 L652,988.7 L654,989.0 L656,989.3 L658,989.6 L660,989.8 L662,990.1 L664,990.4 L666,990.7 L668,990.9 L670,991.2 L672,991.5 L674,991.7 L676,992.0 L678,992.3 L680,992.5 L682,992.8 L684,993.0 L686,993.3 L688,993.5 L690,993.7 L692,993.9 L694,994.1 L696,994.3 L698,994.5 L700,994.7 L702,994.9 L704,995.1 L706,995.2 L708,995.3 L710,995.5 L712,995.6 L714,995.7 L716,995.8 L718,995.9 L720,995.9 L722,996.0 L724,996.0 L726,996.1 L728,996.1 L730,996.1 L732,996.1 L734,996.1 L736,996.1 L738,996.0 L740,996.0 L742,995.9 L744,995.8 L746,995.7 L748,995.6 L750,995.5 L752,995.3 L754,995.2 L756,995.0 L758,994.9 L760,994.7 L762,994.5 L764,994.2 L766,994.0 L768,993.8 L770,993.5 L772,993.2 L774,992.9 L776,992.6 L778,992.3 L780,992.0 L782,991.6 L784,991.3 L786,990.9 L788,990.5 L790,990.1 L792,989.7 L794,989.2 L796,988.8 L798,988.3 L800,987.8 L802,987.3 L804,986.8 L806,986.3 L808,985.7 L810,985.2 L812,984.6 L814,984.0 L816,983.4 L818,982.8 L820,982.1 L822,981.5 L824,980.8 L826,980.1 L828,979.4 L830,978.7 L832,977.9 L834,977.2 L836,976.4 L838,975.6 L840,974.8 L842,973.9 L844,973.1 L846,972.2 L848,971.3 L850,970.4 L852,969.5 L854,968.6 L856,967.6 L858,966.6 L860,965.6 L862,964.6 L864,963.6 L866,962.5 L868,961.4 L870,960.3 L872,959.2 L874,958.1 L876,956.9 L878,955.7 L880,954.5 L882,953.3 L884,952.1 L886,950.8 L888,949.5 L890,948.2 L892,946.9 L894,945.6 L896,944.2 L898,942.8 L900,941.4 L902,940.0 L904,938.5 L906,937.0 L908,935.5 L910,934.0 L912,932.5 L914,930.9 L916,929.3 L918,927.7 L920,926.1 L922,924.4 L924,922.8 L926,921.0 L928,919.3 L930,917.6 L932,915.8 L934,914.0 L936,912.2 L938,910.3 L940,908.5 L942,906.6 L944,904.7 L946,902.7 L948,900.8 L950,898.8 L952,896.8 L954,894.7 L956,892.7 L958,890.6 L960,888.5 L962,886.3 L964,884.2 L966,882.0 L968,879.8 L970,877.5 L972,875.3 L974,873.0 L976,870.6 L978,868.3 L980,865.9 L982,863.5 L984,861.1 L986,858.7 L988,856.2 L990,853.7 L992,851.2 L994,848.7 L996,846.1 L998,843.5 L1000,840.9 L1002,838.2 L1004,835.6 L1006,832.9 L1008,830.2 L1010,827.4 L1012,824.6 L1014,821.9 L1016,819.0 L1018,816.2 L1020,813.3 L1022,810.4 L1024,807.5 L1026,804.6 L1028,801.6 L1030,798.7 L1032,795.7 L1034,792.6 L1036,789.6 L1038,786.6 L1040,783.5 L1042,780.4 L1044,777.3 L1046,774.2 L1048,771.0 L1050,767.9 L1052,764.8 L1054,761.6 L1056,758.4 L1058,755.3 L1060,752.1 L1062,748.9 L1064,745.7 L1066,742.5 L1068,739.3 L1070,736.1 L1072,732.9 L1074,729.7 L1076,726.5 L1078,723.2 L1080,720.0 L1082,716.7 L1084,713.5 L1086,710.2 L1088,706.9 L1090,703.6 L1092,700.2 L1094,696.9 L1096,693.5 L1098,690.1 L1100,686.7 L1102,683.3 L1104,679.8 L1106,676.3 L1108,672.8 L1110,669.3 L1112,665.7 L1114,662.1 L1116,658.5 L1118,654.8 L1120,651.1 L1122,647.4 L1124,643.7 L1126,640.0 L1128,636.2 L1130,632.4 L1132,628.6 L1134,624.7 L1136,620.9 L1138,617.0 L1140,613.1 L1142,609.3 L1144,605.3 L1146,601.4 L1148,597.5 L1150,593.5 L1152,589.5 L1154,585.6 L1156,581.6 L1158,577.6 L1160,573.5 L1162,569.5 L1164,565.5 L1166,561.4 L1168,557.4 L1170,553.3 L1172,549.2 L1174,545.1 L1176,541.0 L1178,536.9 L1180,532.8 L1182,528.7 L1184,524.6 L1186,520.5 L1188,516.4 L1190,512.3 L1192,508.2 L1194,504.1 L1196,499.9 L1198,495.8 L1200,491.7 L1202,487.6 L1204,483.5 L1206,479.4 L1208,475.3 L1210,471.2 L1212,467.1 L1214,463.0 L1216,458.9 L1218,454.9 L1220,450.9 L1222,446.9 L1224,442.9 L1226,439.0 L1228,435.2 L1230,431.4 L1232,427.7 L1234,424.0 L1236,420.4 L1238,416.9 L1240,413.4 L1242,410.0 L1244,406.7 L1246,403.4 L1248,400.2 L1250,397.1 L1252,394.0 L1254,391.1 L1256,388.1 L1258,385.3 L1260,382.5 L1262,379.8 L1264,377.1 L1266,374.6 L1268,372.3 L1270,370.2 L1272,368.3 L1274,366.7 L1276,365.3 L1278,364.2 L1280,363.2 L1282,362.4 L1284,361.7 L1286,361.2 L1288,360.8 L1290,360.6 L1292,360.5 L1294,360.6 L1296,360.8 L1298,361.2 L1300,361.7 L1302,362.4 L1304,363.2 L1306,364.2 L1308,365.4 L1310,366.9 L1312,368.6 L1314,370.7 L1316,373.0 L1318,375.7 L1320,378.6 L1322,381.6 L1324,384.9 L1326,388.2 L1328,391.7 L1330,395.4 L1332,399.3 L1334,403.4 L1336,407.7 L1338,412.2 L1340,416.9 L1342,421.8 L1344,426.9 L1346,432.2 L1348,437.8 L1350,443.4 L1352,449.1 L1354,454.9 L1356,460.8 L1358,466.7 L1360,472.7 L1362,478.7 L1364,484.9 L1366,491.1 L1368,497.5 L1370,504.1 L1372,510.9 L1374,517.8 L1376,525.1 L1378,532.6 L1380,540.4 L1382,548.4 L1384,556.5 L1386,564.9 L1388,573.2 L1390,581.6 L1392,590.0 L1394,598.3 L1396,606.7 L1398,615.0 L1400,623.2 L1402,631.5 L1404,639.7 L1406,647.9 L1408,656.1 L1410,664.2 L1412,672.3 L1414,680.4 L1416,688.4 L1418,696.4 L1420,704.3 L1422,712.2 L1424,720.1 L1426,727.9 L1428,735.6 L1430,743.3 L1432,751.0 L1434,758.6 L1436,766.2 L1438,773.7 L1440,781.1 L1442,788.5 L1444,795.8 L1446,803.0 L1448,810.1 L1450,817.2 L1452,824.1 L1454,831.0 L1456,837.8 L1458,844.5 L1460,851.1 L1462,857.6 L1464,864.1 L1466,870.4 L1468,876.7 L1470,882.8 L1472,888.9 L1474,894.8 L1476,900.7 L1478,906.5 L1480,912.2 L1482,917.9 L1484,923.4 L1486,928.9 L1488,934.2 L1490,939.5 L1492,944.7 L1494,949.8 L1496,954.8 L1498,959.7 L1500,964.6 L1502,969.3 L1504,973.9 L1506,978.4 L1508,982.8 L1510,987.2 L1512,991.4 L1514,995.6 L1516,999.6 L1518,1003.6 L1520,1007.5 L1522,1011.3 L1524,1015.0 L1526,1018.6 L1528,1022.2 L1530,1025.7 L1532,1029.1 L1534,1032.5 L1536,1035.7 L1538,1039.0 L1540,1042.1 L1542,1045.2 L1544,1048.2 L1546,1051.1 L1548,1053.9 L1550,1056.7 L1552,1059.4 L1554,1062.0 L1556,1064.6 L1558,1067.0 L1560,1069.4 L1562,1071.8 L1564,1074.0 L1566,1076.2 L1568,1078.3 L1570,1080.4 L1572,1082.4 L1574,1084.3 L1576,1086.2 L1578,1088.0 L1580,1089.8 L1582,1091.5 L1584,1093.1 L1586,1094.7 L1588,1096.2 L1590,1097.7 L1592,1099.1 L1594,1100.5 L1596,1101.9 L1598,1103.2 L1600,1104.5 L1602,1105.7 L1604,1106.9 L1606,1108.1 L1608,1109.2 L1610,1110.3 L1612,1111.4 L1614,1112.5 L1616,1113.5 L1618,1114.5 L1620,1115.5 L1622,1116.4 L1624,1117.3 L1626,1118.2 L1628,1119.1 L1630,1119.9 L1632,1120.8 L1634,1121.6 L1636,1122.3 L1638,1123.1 L1640,1123.8 L1642,1124.6 L1644,1125.3 L1646,1126.0 L1648,1126.6 L1650,1127.3 L1652,1127.9 L1654,1128.5 L1656,1129.1 L1658,1129.7 L1660,1130.2 L1662,1130.8 L1664,1131.3 L1666,1131.8 L1668,1132.3 L1670,1132.7 L1672,1132.9"/>
<path d="M338,988.8 L340,989.0 L342,989.3 L344,989.6 L346,989.9 L348,990.3 L350,990.6 L352,991.1 L354,991.5 L356,992.0 L358,992.5 L360,993.1 L362,993.7 L364,994.3 L366,995.0 L368,995.7 L370,996.4 L372,997.2 L374,998.0 L376,998.8 L378,999.7 L380,1000.6 L382,1001.6 L384,1002.6 L386,1003.6 L388,1004.7 L390,1005.8 L392,1007.0 L394,1008.2 L396,1009.4 L398,1010.7 L400,1012.0 L402,1013.3 L404,1014.7 L406,1016.1 L408,1017.6 L410,1019.0 L412,1020.5 L414,1022.1 L416,1023.6 L418,1025.2 L420,1026.8 L422,1028.4 L424,1030.1 L426,1031.7 L428,1033.4 L430,1035.1 L432,1036.8 L434,1038.5 L436,1040.2 L438,1041.9 L440,1043.6 L442,1045.2 L444,1046.9 L446,1048.6 L448,1050.3 L450,1051.9 L452,1053.6 L454,1055.2 L456,1056.8 L458,1058.4 L460,1059.9 L462,1061.5 L464,1063.0 L466,1064.5 L468,1066.0 L470,1067.5 L472,1068.9 L474,1070.4 L476,1071.8 L478,1073.1 L480,1074.5 L482,1075.8 L484,1077.2 L486,1078.5 L488,1079.7 L490,1081.0 L492,1082.2 L494,1083.4 L496,1084.6 L498,1085.8 L500,1086.9 L502,1088.0 L504,1089.1 L506,1090.2 L508,1091.2 L510,1092.2 L512,1093.2 L514,1094.2 L516,1095.1 L518,1096.1 L520,1097.0 L522,1097.8 L524,1098.7 L526,1099.5 L528,1100.3 L530,1101.1 L532,1101.9 L534,1102.6 L536,1103.3 L538,1104.0 L540,1104.7 L542,1105.4 L544,1106.0 L546,1106.6 L548,1107.2 L550,1107.7 L552,1108.3 L554,1108.8 L556,1109.3 L558,1109.7 L560,1110.2 L562,1110.6 L564,1110.9 L566,1111.2 L568,1111.5 L570,1111.8 L572,1112.0 L574,1112.2 L576,1112.4 L578,1112.5 L580,1112.6 L582,1112.7 L584,1112.8 L586,1112.8 L588,1112.9 L590,1112.8 L592,1112.8 L594,1112.8 L596,1112.7 L598,1112.6 L600,1112.5 L602,1112.4 L604,1112.3 L606,1112.1 L608,1112.0 L610,1111.8 L612,1111.6 L614,1111.3 L616,1111.1 L618,1110.8 L620,1110.6 L622,1110.3 L624,1110.0 L626,1109.7 L628,1109.3 L630,1109.0 L632,1108.6 L634,1108.3 L636,1107.9 L638,1107.5 L640,1107.1 L642,1106.7 L644,1106.3 L646,1105.9 L648,1105.4 L650,1105.0 L652,1104.5 L654,1104.1 L656,1103.6 L658,1103.2 L660,1102.7 L662,1102.2 L664,1101.7 L666,1101.2 L668,1100.7 L670,1100.1 L672,1099.6 L674,1099.1 L676,1098.5 L678,1097.9 L680,1097.4 L682,1096.8 L684,1096.2 L686,1095.6 L688,1095.0 L690,1094.4 L692,1093.8 L694,1093.1 L696,1092.5 L698,1091.8 L700,1091.2 L702,1090.5 L704,1089.8 L706,1089.1 L708,1088.4 L710,1087.7 L712,1087.0 L714,1086.2 L716,1085.5 L718,1084.8 L720,1084.0 L722,1083.2 L724,1082.5 L726,1081.7 L728,1080.9 L730,1080.1 L732,1079.3 L734,1078.4 L736,1077.6 L738,1076.8 L740,1075.9 L742,1075.1 L744,1074.2 L746,1073.3 L748,1072.5 L750,1071.6 L752,1070.7 L754,1069.8 L756,1068.9 L758,1067.9 L760,1067.0 L762,1066.1 L764,1065.1 L766,1064.1 L768,1063.2 L770,1062.2 L772,1061.2 L774,1060.2 L776,1059.2 L778,1058.2 L780,1057.1 L782,1056.1 L784,1055.0 L786,1054.0 L788,1052.9 L790,1051.8 L792,1050.7 L794,1049.6 L796,1048.5 L798,1047.4 L800,1046.3 L802,1045.1 L804,1044.0 L806,1042.8 L808,1041.6 L810,1040.4 L812,1039.3 L814,1038.1 L816,1036.8 L818,1035.6 L820,1034.4 L822,1033.1 L824,1031.9 L826,1030.6 L828,1029.4 L830,1028.1 L832,1026.8 L834,1025.5 L836,1024.2 L838,1022.8 L840,1021.5 L842,1020.1 L844,1018.8 L846,1017.4 L848,1016.0 L850,1014.6 L852,1013.2 L854,1011.8 L856,1010.4 L858,1009.0 L860,1007.5 L862,1006.1 L864,1004.6 L866,1003.1 L868,1001.7 L870,1000.2 L872,998.7 L874,997.2 L876,995.7 L878,994.1 L880,992.6 L882,991.0 L884,989.5 L886,987.9 L888,986.3 L890,984.7 L892,983.0 L894,981.4 L896,979.7 L898,978.0 L900,976.3 L902,974.6 L904,972.8 L906,971.1 L908,969.3 L910,967.5 L912,965.6 L914,963.8 L916,961.9 L918,960.0 L920,958.0 L922,956.1 L924,954.1 L926,952.1 L928,950.1 L930,948.0 L932,946.0 L934,943.9 L936,941.8 L938,939.7 L940,937.6 L942,935.5 L944,933.3 L946,931.2 L948,929.0 L950,926.8 L952,924.5 L954,922.3 L956,920.0 L958,917.8 L960,915.5 L962,913.2 L964,910.8 L966,908.5 L968,906.1 L970,903.7 L972,901.3 L974,898.9 L976,896.4 L978,894.0 L980,891.5 L982,889.0 L984,886.5 L986,883.9 L988,881.4 L990,878.8 L992,876.2 L994,873.6 L996,871.0 L998,868.3 L1000,865.6 L1002,862.9 L1004,860.2 L1006,857.5 L1008,854.7 L1010,852.0 L1012,849.2 L1014,846.4 L1016,843.5 L1018,840.7 L1020,837.8 L1022,834.9 L1024,832.0 L1026,829.1 L1028,826.1 L1030,823.2 L1032,820.2 L1034,817.2 L1036,814.2 L1038,811.2 L1040,808.1 L1042,805.1 L1044,802.0 L1046,799.0 L1048,795.9 L1050,792.8 L1052,789.7 L1054,786.6 L1056,783.5 L1058,780.4 L1060,777.3 L1062,774.2 L1064,771.0 L1066,767.9 L1068,764.8 L1070,761.7 L1072,758.6 L1074,755.4 L1076,752.3 L1078,749.1 L1080,746.0 L1082,742.8 L1084,739.7 L1086,736.5 L1088,733.3 L1090,730.1 L1092,726.8 L1094,723.6 L1096,720.3 L1098,717.1 L1100,713.8 L1102,710.4 L1104,707.1 L1106,703.7 L1108,700.3 L1110,696.9 L1112,693.5 L1114,690.0 L1116,686.5 L1118,683.0 L1120,679.4 L1122,675.9 L1124,672.3 L1126,668.7 L1128,665.0 L1130,661.4 L1132,657.7 L1134,654.0 L1136,650.3 L1138,646.6 L1140,642.9 L1142,639.2 L1144,635.4 L1146,631.6 L1148,627.9 L1150,624.1 L1152,620.3 L1154,616.4 L1156,612.6 L1158,608.8 L1160,604.9 L1162,601.1 L1164,597.2 L1166,593.3 L1168,589.4 L1170,585.5 L1172,581.6 L1174,577.7 L1176,573.8 L1178,569.9 L1180,566.0 L1182,562.0 L1184,558.1 L1186,554.2 L1188,550.2 L1190,546.3 L1192,542.4 L1194,538.4 L1196,534.5 L1198,530.6 L1200,526.6 L1202,522.7 L1204,518.8 L1206,514.9 L1208,510.9 L1210,507.0 L1212,503.1 L1214,499.2 L1216,495.3 L1218,491.5 L1220,487.6 L1222,483.8 L1224,480.1 L1226,476.3 L1228,472.7 L1230,469.0 L1232,465.5 L1234,462.0 L1236,458.5 L1238,455.2 L1240,451.8 L1242,448.6 L1244,445.4 L1246,442.3 L1248,439.3 L1250,436.3 L1252,433.4 L1254,430.5 L1256,427.7 L1258,425.0 L1260,422.4 L1262,419.8 L1264,417.2 L1266,414.8 L1268,412.6 L1270,410.6 L1272,408.8 L1274,407.2 L1276,405.9 L1278,404.8 L1280,403.9 L1282,403.1 L1284,402.5 L1286,402.0 L1288,401.6 L1290,401.4 L1292,401.3 L1294,401.3 L1296,401.5 L1298,401.9 L1300,402.4 L1302,403.0 L1304,403.8 L1306,404.7 L1308,405.9 L1310,407.3 L1312,408.9 L1314,410.8 L1316,413.1 L1318,415.6 L1320,418.3 L1322,421.2 L1324,424.3 L1326,427.5 L1328,430.8 L1330,434.3 L1332,438.0 L1334,441.9 L1336,445.9 L1338,450.2 L1340,454.7 L1342,459.3 L1344,464.2 L1346,469.3 L1348,474.5 L1350,479.9 L1352,485.3 L1354,490.8 L1356,496.4 L1358,502.0 L1360,507.6 L1362,513.4 L1364,519.2 L1366,525.2 L1368,531.3 L1370,537.5 L1372,543.9 L1374,550.5 L1376,557.4 L1378,564.5 L1380,571.9 L1382,579.5 L1384,587.3 L1386,595.2 L1388,603.2 L1390,611.1 L1392,619.1 L1394,627.0 L1396,634.9 L1398,642.8 L1400,650.7 L1402,658.5 L1404,666.3 L1406,674.1 L1408,681.9 L1410,689.6 L1412,697.3 L1414,705.0 L1416,712.6 L1418,720.2 L1420,727.7 L1422,735.2 L1424,742.7 L1426,750.1 L1428,757.4 L1430,764.8 L1432,772.0 L1434,779.3 L1436,786.5 L1438,793.6 L1440,800.6 L1442,807.6 L1444,814.6 L1446,821.4 L1448,828.2 L1450,834.9 L1452,841.5 L1454,848.0 L1456,854.5 L1458,860.8 L1460,867.1 L1462,873.3 L1464,879.4 L1466,885.4 L1468,891.3 L1470,897.2 L1472,902.9 L1474,908.6 L1476,914.2 L1478,919.7 L1480,925.1 L1482,930.4 L1484,935.7 L1486,940.9 L1488,946.0 L1490,951.0 L1492,955.9 L1494,960.8 L1496,965.5 L1498,970.2 L1500,974.7 L1502,979.2 L1504,983.6 L1506,987.9 L1508,992.1 L1510,996.2 L1512,1000.2 L1514,1004.1 L1516,1008.0 L1518,1011.7 L1520,1015.4 L1522,1019.0 L1524,1022.5 L1526,1026.0 L1528,1029.4 L1530,1032.7 L1532,1035.9 L1534,1039.1 L1536,1042.2 L1538,1045.2 L1540,1048.2 L1542,1051.1 L1544,1053.9 L1546,1056.7 L1548,1059.4 L1550,1062.0 L1552,1064.6 L1554,1067.0 L1556,1069.5 L1558,1071.8 L1560,1074.1 L1562,1076.3 L1564,1078.4 L1566,1080.5 L1568,1082.5 L1570,1084.4 L1572,1086.3 L1574,1088.1 L1576,1089.9 L1578,1091.6 L1580,1093.3 L1582,1094.9 L1584,1096.4 L1586,1097.9 L1588,1099.4 L1590,1100.8 L1592,1102.1 L1594,1103.5 L1596,1104.7 L1598,1106.0 L1600,1107.2 L1602,1108.3 L1604,1109.5 L1606,1110.6 L1608,1111.7 L1610,1112.7 L1612,1113.7 L1614,1114.7 L1616,1115.7 L1618,1116.6 L1620,1117.5 L1622,1118.4 L1624,1119.3 L1626,1120.1 L1628,1120.9 L1630,1121.7 L1632,1122.5 L1634,1123.3 L1636,1124.0 L1638,1124.7 L1640,1125.4 L1642,1126.1 L1644,1126.8 L1646,1127.4 L1648,1128.1 L1650,1128.7 L1652,1129.3 L1654,1129.8 L1656,1130.4 L1658,1130.9 L1660,1131.5 L1662,1132.0 L1664,1132.5 L1666,1133.0 L1668,1133.4 L1670,1133.8 L1672,1134.0"/>
<path d="M338,753.0 L340,750.5 L342,748.0 L344,745.5 L346,742.9 L348,740.4 L350,737.8 L352,735.2 L354,732.7 L356,730.1 L358,727.5 L360,724.9 L362,722.3 L364,719.7 L366,717.1 L368,714.5 L370,711.9 L372,709.4 L374,706.8 L376,704.2 L378,701.7 L380,699.2 L382,696.7 L384,694.2 L386,691.7 L388,689.3 L390,686.9 L392,684.5 L394,682.1 L396,679.8 L398,677.5 L400,675.2 L402,673.0 L404,670.8 L406,668.6 L408,666.4 L410,664.3 L412,662.2 L414,660.1 L416,658.1 L418,656.0 L420,654.1 L422,652.1 L424,650.2 L426,648.4 L428,646.5 L430,644.7 L432,643.0 L434,641.2 L436,639.5 L438,637.9 L440,636.3 L442,634.7 L444,633.2 L446,631.7 L448,630.2 L450,628.8 L452,627.4 L454,626.1 L456,624.8 L458,623.5 L460,622.3 L462,621.1 L464,620.0 L466,618.9 L468,617.8 L470,616.8 L472,615.8 L474,614.9 L476,614.0 L478,613.2 L480,612.4 L482,611.6 L484,610.9 L486,610.2 L488,609.6 L490,609.0 L492,608.5 L494,608.0 L496,607.5 L498,607.1 L500,606.8 L502,606.4 L504,606.2 L506,605.9 L508,605.8 L510,605.6 L512,605.5 L514,605.5 L516,605.5 L518,605.5 L520,605.6 L522,605.7 L524,605.8 L526,606.0 L528,606.2 L530,606.5 L532,606.8 L534,607.1 L536,607.5 L538,607.9 L540,608.3 L542,608.8 L544,609.3 L546,609.8 L548,610.4 L550,611.0 L552,611.7 L554,612.3 L556,613.0 L558,613.8 L560,614.6 L562,615.4 L564,616.2 L566,617.1 L568,618.0 L570,619.0 L572,620.0 L574,621.0 L576,622.0 L578,623.2 L580,624.3 L582,625.5 L584,626.7 L586,628.0 L588,629.3 L590,630.7 L592,632.1 L594,633.5 L596,635.0 L598,636.5 L600,638.1 L602,639.7 L604,641.4 L606,643.1 L608,644.9 L610,646.7 L612,648.6 L614,650.5 L616,652.5 L618,654.5 L620,656.6 L622,658.7 L624,660.9 L626,663.1 L628,665.4 L630,667.7 L632,670.1 L634,672.5 L636,675.0 L638,677.5 L640,680.0 L642,682.6 L644,685.2 L646,687.9 L648,690.6 L650,693.4 L652,696.2 L654,699.0 L656,701.8 L658,704.7 L660,707.6 L662,710.5 L664,713.4 L666,716.4 L668,719.3 L670,722.3 L672,725.2 L674,728.2 L676,731.2 L678,734.1 L680,737.1 L682,740.0 L684,743.0 L686,745.9 L688,748.9 L690,751.8 L692,754.8 L694,757.7 L696,760.6 L698,763.6 L700,766.5 L702,769.4 L704,772.3 L706,775.3 L708,778.2 L710,781.1 L712,784.0 L714,786.9 L716,789.8 L718,792.7 L720,795.5 L722,798.4 L724,801.3 L726,804.1 L728,807.0 L730,809.8 L732,812.7 L734,815.5 L736,818.4 L738,821.2 L740,824.0 L742,826.8 L744,829.6 L746,832.4 L748,835.2 L750,837.9 L752,840.7 L754,843.5 L756,846.2 L758,848.9 L760,851.7 L762,854.4 L764,857.1 L766,859.8 L768,862.5 L770,865.1 L772,867.8 L774,870.4 L776,873.1 L778,875.7 L780,878.3 L782,880.9 L784,883.4 L786,886.0 L788,888.5 L790,891.1 L792,893.6 L794,896.1 L796,898.5 L798,901.0 L800,903.5 L802,905.9 L804,908.3 L806,910.7 L808,913.1 L810,915.4 L812,917.8 L814,920.1 L816,922.4 L818,924.7 L820,927.0 L822,929.2 L824,931.5 L826,933.7 L828,935.8 L830,938.0 L832,940.1 L834,942.3 L836,944.3 L838,946.4 L840,948.5 L842,950.5 L844,952.5 L846,954.4 L848,956.4 L850,958.3 L852,960.2 L854,962.0 L856,963.9 L858,965.7 L860,967.5 L862,969.2 L864,970.9 L866,972.7 L868,974.3 L870,976.0 L872,977.6 L874,979.2 L876,980.8 L878,982.3 L880,983.8 L882,985.3 L884,986.8 L886,988.2 L888,989.6 L890,991.0 L892,992.3 L894,993.6 L896,994.9 L898,996.2 L900,997.4 L902,998.7 L904,999.9 L906,1001.0 L908,1002.1 L910,1003.3 L912,1004.3 L914,1005.4 L916,1006.4 L918,1007.4 L920,1008.4 L922,1009.4 L924,1010.3 L926,1011.2 L928,1012.1 L930,1012.9 L932,1013.7 L934,1014.5 L936,1015.3 L938,1016.1 L940,1016.8 L942,1017.5 L944,1018.2 L946,1018.8 L948,1019.4 L950,1020.0 L952,1020.6 L954,1021.2 L956,1021.7 L958,1022.2 L960,1022.7 L962,1023.2 L964,1023.6 L966,1024.0 L968,1024.4 L970,1024.8 L972,1025.1 L974,1025.5 L976,1025.8 L978,1026.0 L980,1026.3 L982,1026.5 L984,1026.7 L986,1026.9 L988,1027.1 L990,1027.2 L992,1027.3 L994,1027.4 L996,1027.5 L998,1027.5 L1000,1027.5 L1002,1027.5 L1004,1027.5 L1006,1027.4 L1008,1027.3 L1010,1027.2 L1012,1027.1 L1014,1027.0 L1016,1026.8 L1018,1026.6 L1020,1026.4 L1022,1026.2 L1024,1025.9 L1026,1025.7 L1028,1025.4 L1030,1025.1 L1032,1024.8 L1034,1024.5 L1036,1024.1 L1038,1023.8 L1040,1023.4 L1042,1023.1 L1044,1022.7 L1046,1022.3 L1048,1021.9 L1050,1021.5 L1052,1021.1 L1054,1020.6 L1056,1020.2 L1058,1019.8 L1060,1019.3 L1062,1018.8 L1064,1018.3 L1066,1017.9 L1068,1017.4 L1070,1016.8 L1072,1016.3 L1074,1015.8 L1076,1015.2 L1078,1014.7 L1080,1014.1 L1082,1013.5 L1084,1013.0 L1086,1012.4 L1088,1011.7 L1090,1011.1 L1092,1010.5 L1094,1009.9 L1096,1009.2 L1098,1008.5 L1100,1007.9 L1102,1007.2 L1104,1006.5 L1106,1005.7 L1108,1005.0 L1110,1004.3 L1112,1003.5 L1114,1002.8 L1116,1002.0 L1118,1001.2 L1120,1000.4 L1122,999.6 L1124,998.8 L1126,997.9 L1128,997.1 L1130,996.2 L1132,995.3 L1134,994.4 L1136,993.5 L1138,992.6 L1140,991.7 L1142,990.7 L1144,989.8 L1146,988.8 L1148,987.8 L1150,986.8 L1152,985.8 L1154,984.8 L1156,983.7 L1158,982.7 L1160,981.6 L1162,980.6 L1164,979.5 L1166,978.4 L1168,977.3 L1170,976.2 L1172,975.1 L1174,974.0 L1176,972.9 L1178,971.8 L1180,970.7 L1182,969.6 L1184,968.4 L1186,967.3 L1188,966.2 L1190,965.1 L1192,963.9 L1194,962.8 L1196,961.7 L1198,960.6 L1200,959.5 L1202,958.4 L1204,957.3 L1206,956.2 L1208,955.1 L1210,954.0 L1212,953.0 L1214,951.9 L1216,950.8 L1218,949.8 L1220,948.8 L1222,947.8 L1224,946.7 L1226,945.8 L1228,944.8 L1230,943.8 L1232,942.8 L1234,941.9 L1236,941.0 L1238,940.1 L1240,939.2 L1242,938.3 L1244,937.4 L1246,936.6 L1248,935.8 L1250,935.0 L1252,934.2 L1254,933.4 L1256,932.7 L1258,932.0 L1260,931.3 L1262,930.7 L1264,930.1 L1266,929.5 L1268,929.0 L1270,928.5 L1272,928.0 L1274,927.6 L1276,927.2 L1278,926.9 L1280,926.6 L1282,926.3 L1284,926.1 L1286,925.9 L1288,925.8 L1290,925.7 L1292,925.7 L1294,925.7 L1296,925.8 L1298,925.9 L1300,926.1 L1302,926.4 L1304,926.7 L1306,927.0 L1308,927.4 L1310,927.9 L1312,928.4 L1314,928.9 L1316,929.5 L1318,930.2 L1320,930.9 L1322,931.7 L1324,932.5 L1326,933.4 L1328,934.3 L1330,935.3 L1332,936.3 L1334,937.4 L1336,938.5 L1338,939.7 L1340,940.9 L1342,942.2 L1344,943.5 L1346,944.8 L1348,946.2 L1350,947.7 L1352,949.1 L1354,950.7 L1356,952.2 L1358,953.8 L1360,955.4 L1362,957.1 L1364,958.7 L1366,960.5 L1368,962.2 L1370,964.0 L1372,965.7 L1374,967.5 L1376,969.4 L1378,971.2 L1380,973.1 L1382,974.9 L1384,976.8 L1386,978.7 L1388,980.7 L1390,982.6 L1392,984.6 L1394,986.6 L1396,988.6 L1398,990.6 L1400,992.6 L1402,994.7 L1404,996.7 L1406,998.8 L1408,1001.0 L1410,1003.1 L1412,1005.2 L1414,1007.4 L1416,1009.6 L1418,1011.7 L1420,1013.9 L1422,1016.1 L1424,1018.3 L1426,1020.6 L1428,1022.8 L1430,1025.0 L1432,1027.2 L1434,1029.4 L1436,1031.6 L1438,1033.8 L1440,1036.0 L1442,1038.2 L1444,1040.4 L1446,1042.6 L1448,1044.7 L1450,1046.9 L1452,1049.0 L1454,1051.1 L1456,1053.2 L1458,1055.3 L1460,1057.3 L1462,1059.4 L1464,1061.4 L1466,1063.4 L1468,1065.3 L1470,1067.3 L1472,1069.2 L1474,1071.0 L1476,1072.9 L1478,1074.7 L1480,1076.5 L1482,1078.3 L1484,1080.0 L1486,1081.7 L1488,1083.4 L1490,1085.0 L1492,1086.6 L1494,1088.2 L1496,1089.7 L1498,1091.2 L1500,1092.7 L1502,1094.1 L1504,1095.5 L1506,1096.9 L1508,1098.2 L1510,1099.5 L1512,1100.8 L1514,1102.0 L1516,1103.2 L1518,1104.4 L1520,1105.5 L1522,1106.7 L1524,1107.7 L1526,1108.8 L1528,1109.8 L1530,1110.8 L1532,1111.8 L1534,1112.8 L1536,1113.7 L1538,1114.6 L1540,1115.5 L1542,1116.3 L1544,1117.2 L1546,1118.0 L1548,1118.8 L1550,1119.6 L1552,1120.3 L1554,1121.1 L1556,1121.8 L1558,1122.5 L1560,1123.2 L1562,1123.9 L1564,1124.5 L1566,1125.1 L1568,1125.8 L1570,1126.4 L1572,1127.0 L1574,1127.5 L1576,1128.1 L1578,1128.6 L1580,1129.1 L1582,1129.7 L1584,1130.2 L1586,1130.6 L1588,1131.1 L1590,1131.6 L1592,1132.0 L1594,1132.4 L1596,1132.9 L1598,1133.3 L1600,1133.7 L1602,1134.1 L1604,1134.4 L1606,1134.8 L1608,1135.1 L1610,1135.5 L1612,1135.8 L1614,1136.1 L1616,1136.4 L1618,1136.7 L1620,1137.0 L1622,1137.3 L1624,1137.5 L1626,1137.8 L1628,1138.0 L1630,1138.3 L1632,1138.5 L1634,1138.7 L1636,1138.9 L1638,1139.1 L1640,1139.3 L1642,1139.5 L1644,1139.6 L1646,1139.8 L1648,1140.0 L1650,1140.1 L1652,1140.2 L1654,1140.4 L1656,1140.5 L1658,1140.6 L1660,1140.7 L1662,1140.8 L1664,1140.9 L1666,1141.0 L1668,1141.1 L1670,1141.1 L1672,1141.2"/>
<path d="M338,905.1 L340,903.4 L342,901.6 L344,899.7 L346,897.8 L348,896.0 L350,894.1 L352,892.2 L354,890.2 L356,888.3 L358,886.3 L360,884.4 L362,882.4 L364,880.5 L366,878.5 L368,876.5 L370,874.6 L372,872.6 L374,870.7 L376,868.7 L378,866.7 L380,864.8 L382,862.9 L384,860.9 L386,859.0 L388,857.1 L390,855.2 L392,853.3 L394,851.5 L396,849.6 L398,847.8 L400,845.9 L402,844.2 L404,842.4 L406,840.6 L408,838.9 L410,837.2 L412,835.5 L414,833.8 L416,832.2 L418,830.5 L420,828.9 L422,827.4 L424,825.8 L426,824.3 L428,822.8 L430,821.4 L432,819.9 L434,818.5 L436,817.2 L438,815.8 L440,814.5 L442,813.2 L444,812.0 L446,810.7 L448,809.5 L450,808.4 L452,807.2 L454,806.1 L456,805.1 L458,804.0 L460,803.0 L462,802.1 L464,801.1 L466,800.2 L468,799.3 L470,798.5 L472,797.7 L474,796.9 L476,796.1 L478,795.4 L480,794.7 L482,794.1 L484,793.4 L486,792.8 L488,792.3 L490,791.7 L492,791.2 L494,790.7 L496,790.3 L498,789.9 L500,789.5 L502,789.1 L504,788.8 L506,788.5 L508,788.2 L510,788.0 L512,787.8 L514,787.6 L516,787.5 L518,787.3 L520,787.3 L522,787.2 L524,787.2 L526,787.2 L528,787.2 L530,787.3 L532,787.4 L534,787.5 L536,787.7 L538,787.9 L540,788.1 L542,788.4 L544,788.7 L546,789.0 L548,789.3 L550,789.7 L552,790.1 L554,790.5 L556,791.0 L558,791.5 L560,792.0 L562,792.6 L564,793.1 L566,793.8 L568,794.4 L570,795.1 L572,795.7 L574,796.5 L576,797.2 L578,798.0 L580,798.8 L582,799.6 L584,800.5 L586,801.4 L588,802.3 L590,803.3 L592,804.3 L594,805.3 L596,806.4 L598,807.4 L600,808.5 L602,809.7 L604,810.9 L606,812.1 L608,813.3 L610,814.6 L612,815.9 L614,817.2 L616,818.5 L618,819.9 L620,821.3 L622,822.8 L624,824.3 L626,825.8 L628,827.3 L630,828.9 L632,830.5 L634,832.1 L636,833.7 L638,835.4 L640,837.1 L642,838.9 L644,840.6 L646,842.4 L648,844.2 L650,846.1 L652,847.9 L654,849.8 L656,851.7 L658,853.7 L660,855.6 L662,857.6 L664,859.6 L666,861.6 L668,863.6 L670,865.7 L672,867.8 L674,869.9 L676,872.0 L678,874.1 L680,876.2 L682,878.4 L684,880.5 L686,882.7 L688,884.9 L690,887.0 L692,889.2 L694,891.4 L696,893.6 L698,895.8 L700,898.0 L702,900.2 L704,902.4 L706,904.6 L708,906.8 L710,909.0 L712,911.2 L714,913.4 L716,915.5 L718,917.7 L720,919.9 L722,922.0 L724,924.2 L726,926.3 L728,928.5 L730,930.6 L732,932.7 L734,934.9 L736,937.0 L738,939.1 L740,941.2 L742,943.3 L744,945.4 L746,947.5 L748,949.5 L750,951.6 L752,953.7 L754,955.7 L756,957.8 L758,959.8 L760,961.8 L762,963.8 L764,965.9 L766,967.9 L768,969.9 L770,971.8 L772,973.8 L774,975.8 L776,977.7 L778,979.7 L780,981.6 L782,983.6 L784,985.5 L786,987.4 L788,989.3 L790,991.2 L792,993.1 L794,994.9 L796,996.8 L798,998.6 L800,1000.5 L802,1002.3 L804,1004.1 L806,1006.0 L808,1007.8 L810,1009.6 L812,1011.3 L814,1013.1 L816,1014.9 L818,1016.6 L820,1018.4 L822,1020.1 L824,1021.8 L826,1023.5 L828,1025.2 L830,1026.9 L832,1028.6 L834,1030.2 L836,1031.9 L838,1033.5 L840,1035.1 L842,1036.8 L844,1038.4 L846,1039.9 L848,1041.5 L850,1043.1 L852,1044.6 L854,1046.2 L856,1047.7 L858,1049.2 L860,1050.7 L862,1052.2 L864,1053.7 L866,1055.1 L868,1056.6 L870,1058.0 L872,1059.4 L874,1060.8 L876,1062.2 L878,1063.6 L880,1065.0 L882,1066.3 L884,1067.6 L886,1069.0 L888,1070.3 L890,1071.6 L892,1072.8 L894,1074.1 L896,1075.4 L898,1076.6 L900,1077.8 L902,1079.0 L904,1080.2 L906,1081.4 L908,1082.6 L910,1083.7 L912,1084.8 L914,1086.0 L916,1087.1 L918,1088.2 L920,1089.2 L922,1090.3 L924,1091.3 L926,1092.4 L928,1093.4 L930,1094.4 L932,1095.4 L934,1096.3 L936,1097.3 L938,1098.2 L940,1099.2 L942,1100.1 L944,1101.0 L946,1101.8 L948,1102.7 L950,1103.6 L952,1104.4 L954,1105.2 L956,1106.0 L958,1106.8 L960,1107.6 L962,1108.3 L964,1109.1 L966,1109.8 L968,1110.5 L970,1111.2 L972,1111.9 L974,1112.6 L976,1113.2 L978,1113.8 L980,1114.5 L982,1115.1 L984,1115.7 L986,1116.2 L988,1116.8 L990,1117.4 L992,1117.9 L994,1118.4 L996,1119.0 L998,1119.5 L1000,1119.9 L1002,1120.4 L1004,1120.9 L1006,1121.4 L1008,1121.8 L1010,1122.2 L1012,1122.7 L1014,1123.1 L1016,1123.5 L1018,1123.9 L1020,1124.3 L1022,1124.6 L1024,1125.0 L1026,1125.4 L1028,1125.7 L1030,1126.1 L1032,1126.4 L1034,1126.7 L1036,1127.0 L1038,1127.3 L1040,1127.6 L1042,1127.9 L1044,1128.2 L1046,1128.5 L1048,1128.8 L1050,1129.0 L1052,1129.3 L1054,1129.5 L1056,1129.8 L1058,1130.0 L1060,1130.2 L1062,1130.5 L1064,1130.7 L1066,1130.9 L1068,1131.1 L1070,1131.3 L1072,1131.5 L1074,1131.7 L1076,1131.9 L1078,1132.0 L1080,1132.2 L1082,1132.4 L1084,1132.6 L1086,1132.7 L1088,1132.9 L1090,1133.0 L1092,1133.2 L1094,1133.3 L1096,1133.5 L1098,1133.6 L1100,1133.7 L1102,1133.9 L1104,1134.0 L1106,1134.1 L1108,1134.3 L1110,1134.4 L1112,1134.5 L1114,1134.6 L1116,1134.7 L1118,1134.8 L1120,1135.0 L1122,1135.1 L1124,1135.2 L1126,1135.3 L1128,1135.4 L1130,1135.5 L1132,1135.6 L1134,1135.7 L1136,1135.7 L1138,1135.8 L1140,1135.9 L1142,1136.0 L1144,1136.1 L1146,1136.2 L1148,1136.2 L1150,1136.3 L1152,1136.4 L1154,1136.5 L1156,1136.5 L1158,1136.6 L1160,1136.7 L1162,1136.7 L1164,1136.8 L1166,1136.9 L1168,1136.9 L1170,1137.0 L1172,1137.0 L1174,1137.1 L1176,1137.1 L1178,1137.2 L1180,1137.2 L1182,1137.3 L1184,1137.3 L1186,1137.4 L1188,1137.4 L1190,1137.5 L1192,1137.5 L1194,1137.6 L1196,1137.6 L1198,1137.6 L1200,1137.7 L1202,1137.7 L1204,1137.7 L1206,1137.8 L1208,1137.8 L1210,1137.8 L1212,1137.9 L1214,1137.9 L1216,1137.9 L1218,1138.0 L1220,1138.0 L1222,1138.0 L1224,1138.0 L1226,1138.1 L1228,1138.1 L1230,1138.1 L1232,1138.1 L1234,1138.2 L1236,1138.2 L1238,1138.2 L1240,1138.2 L1242,1138.3 L1244,1138.3 L1246,1138.3 L1248,1138.3 L1250,1138.3 L1252,1138.4 L1254,1138.4 L1256,1138.4 L1258,1138.4 L1260,1138.4 L1262,1138.5 L1264,1138.5 L1266,1138.5 L1268,1138.5 L1270,1138.5 L1272,1138.6 L1274,1138.6 L1276,1138.6 L1278,1138.6 L1280,1138.7 L1282,1138.7 L1284,1138.7 L1286,1138.7 L1288,1138.7 L1290,1138.8 L1292,1138.8 L1294,1138.8 L1296,1138.8 L1298,1138.9 L1300,1138.9 L1302,1138.9 L1304,1139.0 L1306,1139.0 L1308,1139.0 L1310,1139.0 L1312,1139.1 L1314,1139.1 L1316,1139.1 L1318,1139.2 L1320,1139.2 L1322,1139.2 L1324,1139.3 L1326,1139.3 L1328,1139.3 L1330,1139.4 L1332,1139.4 L1334,1139.5 L1336,1139.5 L1338,1139.5 L1340,1139.6 L1342,1139.6 L1344,1139.6 L1346,1139.7 L1348,1139.7 L1350,1139.8 L1352,1139.8 L1354,1139.9 L1356,1139.9 L1358,1139.9 L1360,1140.0 L1362,1140.0 L1364,1140.1 L1366,1140.1 L1368,1140.2 L1370,1140.2 L1372,1140.3 L1374,1140.3 L1376,1140.3 L1378,1140.4 L1380,1140.4 L1382,1140.5 L1384,1140.5 L1386,1140.6 L1388,1140.6 L1390,1140.7 L1392,1140.7 L1394,1140.8 L1396,1140.8 L1398,1140.9 L1400,1140.9 L1402,1141.0 L1404,1141.0 L1406,1141.1 L1408,1141.1 L1410,1141.2 L1412,1141.2 L1414,1141.3 L1416,1141.3 L1418,1141.4 L1420,1141.4 L1422,1141.5 L1424,1141.6 L1426,1141.6 L1428,1141.7 L1430,1141.7 L1432,1141.8 L1434,1141.8 L1436,1141.9 L1438,1141.9 L1440,1142.0 L1442,1142.0 L1444,1142.1 L1446,1142.1 L1448,1142.2 L1450,1142.2 L1452,1142.3 L1454,1142.4 L1456,1142.4 L1458,1142.5 L1460,1142.5 L1462,1142.6 L1464,1142.6 L1466,1142.7 L1468,1142.7 L1470,1142.8 L1472,1142.8 L1474,1142.9 L1476,1142.9 L1478,1143.0 L1480,1143.1 L1482,1143.1 L1484,1143.2 L1486,1143.2 L1488,1143.3 L1490,1143.3 L1492,1143.4 L1494,1143.4 L1496,1143.5 L1498,1143.5 L1500,1143.6 L1502,1143.6 L1504,1143.7 L1506,1143.7 L1508,1143.8 L1510,1143.8 L1512,1143.9 L1514,1143.9 L1516,1144.0 L1518,1144.0 L1520,1144.1 L1522,1144.1 L1524,1144.2 L1526,1144.2 L1528,1144.3 L1530,1144.3 L1532,1144.4 L1534,1144.4 L1536,1144.5 L1538,1144.5 L1540,1144.6 L1542,1144.6 L1544,1144.7 L1546,1144.7 L1548,1144.8 L1550,1144.8 L1552,1144.8 L1554,1144.9 L1556,1144.9 L1558,1145.0 L1560,1145.0 L1562,1145.1 L1564,1145.1 L1566,1145.1 L1568,1145.2 L1570,1145.2 L1572,1145.3 L1574,1145.3 L1576,1145.3 L1578,1145.4 L1580,1145.4 L1582,1145.5 L1584,1145.5 L1586,1145.5 L1588,1145.6 L1590,1145.6 L1592,1145.6 L1594,1145.7 L1596,1145.7 L1598,1145.7 L1600,1145.8 L1602,1145.8 L1604,1145.8 L1606,1145.9 L1608,1145.9 L1610,1145.9 L1612,1145.9 L1614,1146.0 L1616,1146.0 L1618,1146.0 L1620,1146.0 L1622,1146.1 L1624,1146.1 L1626,1146.1 L1628,1146.1 L1630,1146.2 L1632,1146.2 L1634,1146.2 L1636,1146.2 L1638,1146.2 L1640,1146.3 L1642,1146.3 L1644,1146.3 L1646,1146.3 L1648,1146.3 L1650,1146.3 L1652,1146.3 L1654,1146.4 L1656,1146.4 L1658,1146.4 L1660,1146.4 L1662,1146.4 L1664,1146.4 L1666,1146.4 L1668,1146.4 L1670,1146.4 L1672,1146.4"/>
</g>
<g stroke="#000" stroke-width="9.4" fill="none">
<polyline points="308,80.5 1664.4,80.5 1664.4,1178" stroke-linejoin="round"/>
<line x1="308" y1="1147.5" x2="1669" y2="1147.5"/>
<line x1="338" y1="80.5" x2="338" y2="1178"/>
<line x1="308" y1="969.7" x2="338" y2="969.7"/>
<line x1="308" y1="791.8" x2="338" y2="791.8"/>
<line x1="308" y1="614.0" x2="338" y2="614.0"/>
<line x1="308" y1="436.2" x2="338" y2="436.2"/>
<line x1="308" y1="258.3" x2="338" y2="258.3"/>
<line x1="559.0" y1="1147.5" x2="559.0" y2="1178"/>
<line x1="780.0" y1="1147.5" x2="780.0" y2="1178"/>
<line x1="1001.0" y1="1147.5" x2="1001.0" y2="1178"/>
<line x1="1222.0" y1="1147.5" x2="1222.0" y2="1178"/>
<line x1="1443.0" y1="1147.5" x2="1443.0" y2="1178"/>
</g>
<g stroke="#000" stroke-width="8.9" fill="none">
<line x1="612.5" y1="80.5" x2="612.5" y2="623.1999999999999" stroke-linecap="butt"/><polyline points="583.2,573.1999999999999 612.5,623.1999999999999 641.8,573.1999999999999" stroke-linecap="round" stroke-linejoin="miter" stroke-miterlimit="10"/>
<line x1="1447.0" y1="80.5" x2="1447.0" y2="627.4" stroke-linecap="butt"/><polyline points="1417.7,577.4 1447.0,627.4 1476.3,577.4" stroke-linecap="round" stroke-linejoin="miter" stroke-miterlimit="10"/>
</g>
<g font-family="'Liberation Serif', serif" fill="#000">
<text transform="translate(252.7,1178.8) scale(1.0,1.037)" font-size="100" text-anchor="end">0</text>
<text transform="translate(253.5,1000.5) scale(1.0,1.037)" font-size="100" text-anchor="end">0.2</text>
<text transform="translate(253.5,822.6) scale(1.0,1.037)" font-size="100" text-anchor="end">0.4</text>
<text transform="translate(253.5,644.8) scale(1.0,1.037)" font-size="100" text-anchor="end">0.6</text>
<text transform="translate(253.5,467.0) scale(1.0,1.037)" font-size="100" text-anchor="end">0.8</text>
<text transform="translate(255.0,289.1) scale(1.0,1.037)" font-size="100" text-anchor="end">1</text>
<text transform="translate(255.0,111.3) scale(1.0,1.037)" font-size="100" text-anchor="end">1.2</text>
<text transform="translate(338.7,1296.0) scale(1.0,1.037)" font-size="100" text-anchor="middle">400</text>
<text transform="translate(558.5,1296.0) scale(1.0,1.037)" font-size="100" text-anchor="middle">450</text>
<text transform="translate(779.5,1296.0) scale(1.0,1.037)" font-size="100" text-anchor="middle">500</text>
<text transform="translate(1000.5,1296.0) scale(1.0,1.037)" font-size="100" text-anchor="middle">550</text>
<text transform="translate(1221.5,1296.0) scale(1.0,1.037)" font-size="100" text-anchor="middle">600</text>
<text transform="translate(1442.5,1296.0) scale(1.0,1.037)" font-size="100" text-anchor="middle">650</text>
<text transform="translate(1663.5,1296.0) scale(1.0,1.037)" font-size="100" text-anchor="middle">700</text>
<text transform="translate(25.8,649.8) scale(1.039,1.039)" font-size="100" text-anchor="start" font-weight="bold" font-style="italic">A</text>
<text transform="translate(868,1424) skewX(-7) scale(1.28,1.014)" font-size="100" font-weight="bold" font-style="italic">λ</text>
<text transform="translate(943.8,1424.0) scale(1.0,1.0)" font-size="100" text-anchor="start">(nm)</text>
<text transform="translate(659.3,136.8) scale(0.995,1.03)" font-size="66.7" text-anchor="start">pH4</text>
<text transform="translate(659.3,213.5) scale(0.995,1.03)" font-size="66.7" text-anchor="start">pH3</text>
<text transform="translate(659.3,290.1) scale(0.995,1.03)" font-size="66.7" text-anchor="start">pH5</text>
<text transform="translate(659.3,366.8) scale(0.995,1.03)" font-size="66.7" text-anchor="start">pH6</text>
<text transform="translate(659.3,443.4) scale(0.995,1.03)" font-size="66.7" text-anchor="start">pH9</text>
<text transform="translate(659.3,520.0) scale(0.995,1.03)" font-size="66.7" text-anchor="start">pH7</text>
<text transform="translate(659.3,596.7) scale(0.995,1.03)" font-size="66.7" text-anchor="start">pH11</text>
<text transform="translate(1482.0,144.9) scale(0.995,1.03)" font-size="66.7" text-anchor="start">pH9</text>
<text transform="translate(1482.0,221.6) scale(0.995,1.03)" font-size="66.7" text-anchor="start">pH6</text>
<text transform="translate(1482.0,298.3) scale(0.995,1.03)" font-size="66.7" text-anchor="start">pH7</text>
<text transform="translate(1482.0,375.0) scale(0.995,1.03)" font-size="66.7" text-anchor="start">pH5</text>
<text transform="translate(1482.0,451.7) scale(0.995,1.03)" font-size="66.7" text-anchor="start">pH11</text>
<text transform="translate(1482.0,528.4) scale(0.995,1.03)" font-size="66.7" text-anchor="start">pH4</text>
<text transform="translate(1482.0,605.1) scale(0.995,1.03)" font-size="66.7" text-anchor="start">pH3</text>
</g>
</g>
</svg>
</body></html>
